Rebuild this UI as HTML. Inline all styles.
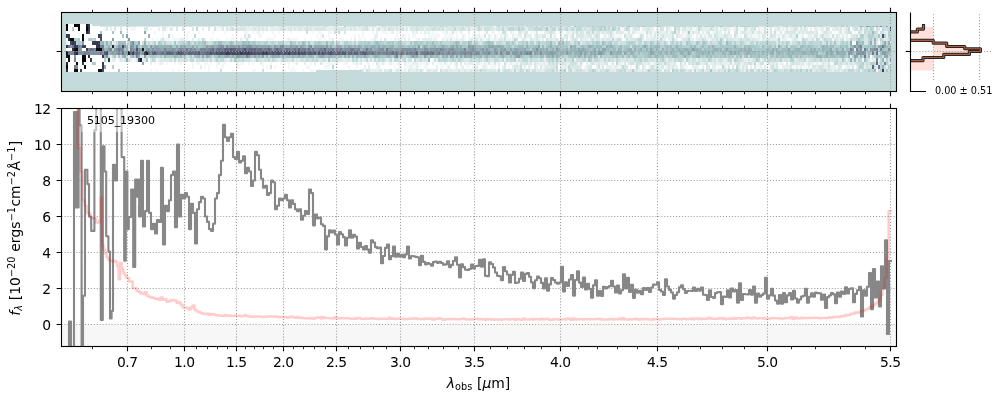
<!DOCTYPE html><html><head><meta charset="utf-8"><title>5105_19300</title><style>html,body{margin:0;padding:0;background:#fff;}svg{display:block;}</style></head><body><svg width="1000" height="400" viewBox="0 0 1000 400"><defs><clipPath id="c1"><rect x="61.5" y="12.5" width="835" height="79"/></clipPath><clipPath id="c2"><rect x="61.5" y="108.5" width="835" height="238"/></clipPath><clipPath id="c3"><rect x="910.5" y="12.5" width="82" height="79"/></clipPath></defs><rect width="1000" height="400" fill="#fff"/><rect x="61.5" y="12.5" width="835" height="79" fill="#c5dada"/><g clip-path="url(#c1)" shape-rendering="crispEdges"><path fill="#ffffff" d="M68 24h6v3.43h-6zM80 24h6v3.43h-6zM90 24h2v3.43h-2zM68 27.43h4v3.43h-4zM74 27.43h4v3.43h-4zM80 27.43h6v3.43h-6zM90 27.43h14v3.43h-14zM108 27.43h2v3.43h-2zM112 27.43h2v3.43h-2zM116 27.43h4v3.43h-4zM122 27.43h4v3.43h-4zM128 27.43h2v3.43h-2zM136 27.43h8v3.43h-8zM148 27.43h2v3.43h-2zM152 27.43h6v3.43h-6zM160 27.43h2v3.43h-2zM168 27.43h2v3.43h-2zM174 27.43h2v3.43h-2zM178 27.43h4v3.43h-4zM184 27.43h8v3.43h-8zM194 27.43h2v3.43h-2zM198 27.43h4v3.43h-4zM204 27.43h4v3.43h-4zM210 27.43h4v3.43h-4zM224 27.43h2v3.43h-2zM640 27.43h2v3.43h-2zM654 27.43h2v3.43h-2zM664 27.43h2v3.43h-2zM672 27.43h2v3.43h-2zM756 27.43h2v3.43h-2zM772 27.43h2v3.43h-2zM808 27.43h2v3.43h-2zM812 27.43h2v3.43h-2zM830 27.43h2v3.43h-2zM850 27.43h2v3.43h-2zM66 30.86h20v3.43h-20zM90 30.86h10v3.43h-10zM102 30.86h10v3.43h-10zM114 30.86h6v3.43h-6zM122 30.86h22v3.43h-22zM146 30.86h8v3.43h-8zM156 30.86h6v3.43h-6zM164 30.86h24v3.43h-24zM190 30.86h8v3.43h-8zM200 30.86h12v3.43h-12zM214 30.86h10v3.43h-10zM226 30.86h10v3.43h-10zM238 30.86h6v3.43h-6zM248 30.86h4v3.43h-4zM254 30.86h2v3.43h-2zM260 30.86h2v3.43h-2zM264 30.86h8v3.43h-8zM274 30.86h4v3.43h-4zM280 30.86h10v3.43h-10zM292 30.86h14v3.43h-14zM308 30.86h4v3.43h-4zM314 30.86h4v3.43h-4zM322 30.86h6v3.43h-6zM332 30.86h2v3.43h-2zM336 30.86h2v3.43h-2zM340 30.86h4v3.43h-4zM346 30.86h16v3.43h-16zM364 30.86h8v3.43h-8zM374 30.86h2v3.43h-2zM378 30.86h4v3.43h-4zM388 30.86h2v3.43h-2zM394 30.86h2v3.43h-2zM400 30.86h6v3.43h-6zM408 30.86h4v3.43h-4zM418 30.86h2v3.43h-2zM422 30.86h2v3.43h-2zM430 30.86h2v3.43h-2zM434 30.86h2v3.43h-2zM438 30.86h4v3.43h-4zM448 30.86h2v3.43h-2zM458 30.86h2v3.43h-2zM462 30.86h6v3.43h-6zM470 30.86h4v3.43h-4zM476 30.86h2v3.43h-2zM480 30.86h4v3.43h-4zM488 30.86h4v3.43h-4zM494 30.86h4v3.43h-4zM500 30.86h2v3.43h-2zM508 30.86h2v3.43h-2zM516 30.86h2v3.43h-2zM528 30.86h2v3.43h-2zM538 30.86h2v3.43h-2zM542 30.86h2v3.43h-2zM556 30.86h2v3.43h-2zM564 30.86h2v3.43h-2zM680 30.86h2v3.43h-2zM700 30.86h2v3.43h-2zM710 30.86h2v3.43h-2zM722 30.86h2v3.43h-2zM730 30.86h4v3.43h-4zM738 30.86h2v3.43h-2zM782 30.86h2v3.43h-2zM818 30.86h2v3.43h-2zM832 30.86h2v3.43h-2zM836 30.86h2v3.43h-2zM852 30.86h2v3.43h-2zM856 30.86h2v3.43h-2zM70 34.29h12v3.43h-12zM84 34.29h14v3.43h-14zM102 34.29h20v3.43h-20zM124 34.29h2v3.43h-2zM128 34.29h20v3.43h-20zM150 34.29h12v3.43h-12zM164 34.29h4v3.43h-4zM170 34.29h2v3.43h-2zM174 34.29h12v3.43h-12zM188 34.29h6v3.43h-6zM196 34.29h36v3.43h-36zM234 34.29h10v3.43h-10zM252 34.29h6v3.43h-6zM262 34.29h12v3.43h-12zM276 34.29h40v3.43h-40zM318 34.29h2v3.43h-2zM324 34.29h4v3.43h-4zM330 34.29h24v3.43h-24zM356 34.29h2v3.43h-2zM360 34.29h2v3.43h-2zM364 34.29h10v3.43h-10zM378 34.29h18v3.43h-18zM398 34.29h4v3.43h-4zM406 34.29h2v3.43h-2zM410 34.29h2v3.43h-2zM416 34.29h8v3.43h-8zM426 34.29h2v3.43h-2zM440 34.29h4v3.43h-4zM454 34.29h2v3.43h-2zM458 34.29h4v3.43h-4zM466 34.29h2v3.43h-2zM470 34.29h2v3.43h-2zM486 34.29h2v3.43h-2zM492 34.29h2v3.43h-2zM498 34.29h2v3.43h-2zM508 34.29h4v3.43h-4zM522 34.29h2v3.43h-2zM532 34.29h2v3.43h-2zM556 34.29h4v3.43h-4zM574 34.29h2v3.43h-2zM600 34.29h2v3.43h-2zM622 34.29h2v3.43h-2zM634 34.29h4v3.43h-4zM644 34.29h2v3.43h-2zM674 34.29h2v3.43h-2zM694 34.29h2v3.43h-2zM732 34.29h2v3.43h-2zM742 34.29h2v3.43h-2zM766 34.29h2v3.43h-2zM804 34.29h2v3.43h-2zM848 34.29h2v3.43h-2zM66 37.71h2v3.43h-2zM80 37.71h2v3.43h-2zM84 37.71h4v3.43h-4zM96 37.71h4v3.43h-4zM102 37.71h10v3.43h-10zM114 37.71h14v3.43h-14zM130 37.71h14v3.43h-14zM146 37.71h6v3.43h-6zM154 37.71h2v3.43h-2zM158 37.71h2v3.43h-2zM170 37.71h2v3.43h-2zM188 37.71h4v3.43h-4zM194 37.71h2v3.43h-2zM206 37.71h4v3.43h-4zM214 37.71h2v3.43h-2zM220 37.71h6v3.43h-6zM228 37.71h2v3.43h-2zM238 37.71h2v3.43h-2zM244 37.71h2v3.43h-2zM250 37.71h4v3.43h-4zM256 37.71h10v3.43h-10zM274 37.71h8v3.43h-8zM284 37.71h2v3.43h-2zM298 37.71h6v3.43h-6zM306 37.71h4v3.43h-4zM312 37.71h6v3.43h-6zM322 37.71h2v3.43h-2zM326 37.71h2v3.43h-2zM334 37.71h4v3.43h-4zM344 37.71h2v3.43h-2zM348 37.71h2v3.43h-2zM352 37.71h2v3.43h-2zM356 37.71h2v3.43h-2zM362 37.71h2v3.43h-2zM366 37.71h4v3.43h-4zM378 37.71h2v3.43h-2zM382 37.71h2v3.43h-2zM388 37.71h2v3.43h-2zM392 37.71h2v3.43h-2zM406 37.71h2v3.43h-2zM410 37.71h6v3.43h-6zM420 37.71h2v3.43h-2zM438 37.71h4v3.43h-4zM466 37.71h2v3.43h-2zM518 37.71h2v3.43h-2zM544 37.71h2v3.43h-2zM568 37.71h2v3.43h-2zM578 37.71h2v3.43h-2zM622 37.71h2v3.43h-2zM666 37.71h2v3.43h-2zM678 37.71h2v3.43h-2zM788 37.71h2v3.43h-2zM68 41.14h2v3.43h-2zM84 41.14h8v3.43h-8zM852 41.14h4v3.43h-4zM878 41.14h2v3.43h-2zM890 41.14h1v3.43h-1zM86 44.57h10v3.43h-10zM66 48h6v3.43h-6zM82 48h4v3.43h-4zM70 54.86h4v3.43h-4zM76 54.86h6v3.43h-6zM86 54.86h2v3.43h-2zM90 54.86h12v3.43h-12zM870 54.86h2v3.43h-2zM66 58.29h2v3.43h-2zM70 58.29h4v3.43h-4zM76 58.29h6v3.43h-6zM86 58.29h4v3.43h-4zM92 58.29h12v3.43h-12zM116 58.29h2v3.43h-2zM132 58.29h2v3.43h-2zM148 58.29h2v3.43h-2zM430 58.29h2v3.43h-2zM68 61.71h8v3.43h-8zM78 61.71h4v3.43h-4zM84 61.71h8v3.43h-8zM96 61.71h6v3.43h-6zM104 61.71h38v3.43h-38zM144 61.71h6v3.43h-6zM152 61.71h2v3.43h-2zM156 61.71h2v3.43h-2zM164 61.71h2v3.43h-2zM168 61.71h6v3.43h-6zM176 61.71h2v3.43h-2zM182 61.71h2v3.43h-2zM186 61.71h6v3.43h-6zM194 61.71h2v3.43h-2zM200 61.71h4v3.43h-4zM208 61.71h2v3.43h-2zM212 61.71h4v3.43h-4zM220 61.71h2v3.43h-2zM226 61.71h10v3.43h-10zM244 61.71h4v3.43h-4zM250 61.71h2v3.43h-2zM254 61.71h6v3.43h-6zM264 61.71h6v3.43h-6zM272 61.71h8v3.43h-8zM282 61.71h2v3.43h-2zM286 61.71h2v3.43h-2zM290 61.71h4v3.43h-4zM298 61.71h6v3.43h-6zM306 61.71h4v3.43h-4zM312 61.71h2v3.43h-2zM316 61.71h4v3.43h-4zM324 61.71h2v3.43h-2zM338 61.71h6v3.43h-6zM348 61.71h4v3.43h-4zM362 61.71h4v3.43h-4zM370 61.71h2v3.43h-2zM374 61.71h2v3.43h-2zM386 61.71h2v3.43h-2zM394 61.71h2v3.43h-2zM402 61.71h2v3.43h-2zM430 61.71h2v3.43h-2zM434 61.71h4v3.43h-4zM448 61.71h2v3.43h-2zM452 61.71h2v3.43h-2zM458 61.71h2v3.43h-2zM462 61.71h2v3.43h-2zM502 61.71h2v3.43h-2zM584 61.71h2v3.43h-2zM608 61.71h2v3.43h-2zM614 61.71h2v3.43h-2zM676 61.71h4v3.43h-4zM686 61.71h2v3.43h-2zM764 61.71h2v3.43h-2zM784 61.71h2v3.43h-2zM68 65.14h6v3.43h-6zM78 65.14h6v3.43h-6zM86 65.14h16v3.43h-16zM106 65.14h6v3.43h-6zM114 65.14h78v3.43h-78zM194 65.14h6v3.43h-6zM202 65.14h2v3.43h-2zM206 65.14h2v3.43h-2zM210 65.14h6v3.43h-6zM218 65.14h2v3.43h-2zM224 65.14h12v3.43h-12zM240 65.14h22v3.43h-22zM264 65.14h2v3.43h-2zM268 65.14h2v3.43h-2zM272 65.14h2v3.43h-2zM276 65.14h12v3.43h-12zM290 65.14h2v3.43h-2zM294 65.14h12v3.43h-12zM310 65.14h14v3.43h-14zM330 65.14h2v3.43h-2zM334 65.14h14v3.43h-14zM350 65.14h6v3.43h-6zM358 65.14h6v3.43h-6zM366 65.14h2v3.43h-2zM370 65.14h6v3.43h-6zM380 65.14h14v3.43h-14zM396 65.14h2v3.43h-2zM402 65.14h2v3.43h-2zM420 65.14h4v3.43h-4zM428 65.14h8v3.43h-8zM438 65.14h2v3.43h-2zM444 65.14h2v3.43h-2zM450 65.14h4v3.43h-4zM458 65.14h2v3.43h-2zM464 65.14h2v3.43h-2zM470 65.14h2v3.43h-2zM478 65.14h4v3.43h-4zM488 65.14h2v3.43h-2zM496 65.14h2v3.43h-2zM500 65.14h2v3.43h-2zM506 65.14h2v3.43h-2zM510 65.14h2v3.43h-2zM526 65.14h2v3.43h-2zM532 65.14h2v3.43h-2zM538 65.14h2v3.43h-2zM558 65.14h2v3.43h-2zM582 65.14h2v3.43h-2zM592 65.14h4v3.43h-4zM604 65.14h2v3.43h-2zM628 65.14h2v3.43h-2zM632 65.14h2v3.43h-2zM640 65.14h2v3.43h-2zM646 65.14h2v3.43h-2zM678 65.14h2v3.43h-2zM688 65.14h4v3.43h-4zM700 65.14h2v3.43h-2zM704 65.14h2v3.43h-2zM710 65.14h2v3.43h-2zM730 65.14h2v3.43h-2zM734 65.14h2v3.43h-2zM748 65.14h2v3.43h-2zM752 65.14h2v3.43h-2zM762 65.14h2v3.43h-2zM766 65.14h4v3.43h-4zM780 65.14h2v3.43h-2zM842 65.14h2v3.43h-2zM854 65.14h2v3.43h-2zM68 68.57h6v3.43h-6zM78 68.57h2v3.43h-2zM82 68.57h16v3.43h-16zM104 68.57h14v3.43h-14zM120 68.57h30v3.43h-30zM152 68.57h4v3.43h-4zM158 68.57h14v3.43h-14zM174 68.57h4v3.43h-4zM180 68.57h6v3.43h-6zM188 68.57h20v3.43h-20zM210 68.57h10v3.43h-10zM222 68.57h10v3.43h-10zM234 68.57h18v3.43h-18zM256 68.57h6v3.43h-6zM264 68.57h18v3.43h-18zM286 68.57h4v3.43h-4zM296 68.57h6v3.43h-6zM304 68.57h6v3.43h-6zM314 68.57h2v3.43h-2zM424 68.57h2v3.43h-2zM438 68.57h2v3.43h-2zM92 26.3h8v1.13h-8zM170 26.3h2v1.13h-2zM316 68.57h2v1.13h-2zM320 68.57h10v1.13h-10zM334 68.57h16v1.13h-16zM352 68.57h2v1.13h-2zM356 68.57h2v1.13h-2z"/><path fill="#f3f7f7" d="M104 27.43h2v3.43h-2zM130 27.43h6v3.43h-6zM150 27.43h2v3.43h-2zM166 27.43h2v3.43h-2zM172 27.43h2v3.43h-2zM216 27.43h6v3.43h-6zM268 27.43h2v3.43h-2zM370 27.43h2v3.43h-2zM374 27.43h2v3.43h-2zM408 27.43h2v3.43h-2zM620 27.43h4v3.43h-4zM630 27.43h2v3.43h-2zM658 27.43h2v3.43h-2zM670 27.43h2v3.43h-2zM680 27.43h2v3.43h-2zM692 27.43h4v3.43h-4zM718 27.43h2v3.43h-2zM730 27.43h4v3.43h-4zM738 27.43h6v3.43h-6zM748 27.43h2v3.43h-2zM760 27.43h4v3.43h-4zM766 27.43h4v3.43h-4zM780 27.43h2v3.43h-2zM784 27.43h2v3.43h-2zM788 27.43h2v3.43h-2zM798 27.43h2v3.43h-2zM818 27.43h2v3.43h-2zM824 27.43h2v3.43h-2zM842 27.43h2v3.43h-2zM874 27.43h2v3.43h-2zM880 27.43h2v3.43h-2zM154 30.86h2v3.43h-2zM162 30.86h2v3.43h-2zM188 30.86h2v3.43h-2zM198 30.86h2v3.43h-2zM212 30.86h2v3.43h-2zM224 30.86h2v3.43h-2zM236 30.86h2v3.43h-2zM244 30.86h4v3.43h-4zM252 30.86h2v3.43h-2zM256 30.86h2v3.43h-2zM262 30.86h2v3.43h-2zM272 30.86h2v3.43h-2zM278 30.86h2v3.43h-2zM290 30.86h2v3.43h-2zM312 30.86h2v3.43h-2zM318 30.86h4v3.43h-4zM328 30.86h4v3.43h-4zM362 30.86h2v3.43h-2zM372 30.86h2v3.43h-2zM382 30.86h6v3.43h-6zM390 30.86h2v3.43h-2zM396 30.86h4v3.43h-4zM406 30.86h2v3.43h-2zM414 30.86h2v3.43h-2zM420 30.86h2v3.43h-2zM426 30.86h2v3.43h-2zM432 30.86h2v3.43h-2zM436 30.86h2v3.43h-2zM442 30.86h4v3.43h-4zM450 30.86h2v3.43h-2zM454 30.86h4v3.43h-4zM474 30.86h2v3.43h-2zM478 30.86h2v3.43h-2zM484 30.86h2v3.43h-2zM498 30.86h2v3.43h-2zM506 30.86h2v3.43h-2zM512 30.86h4v3.43h-4zM522 30.86h2v3.43h-2zM530 30.86h6v3.43h-6zM540 30.86h2v3.43h-2zM558 30.86h2v3.43h-2zM562 30.86h2v3.43h-2zM570 30.86h2v3.43h-2zM584 30.86h2v3.43h-2zM614 30.86h2v3.43h-2zM624 30.86h4v3.43h-4zM630 30.86h2v3.43h-2zM636 30.86h10v3.43h-10zM652 30.86h2v3.43h-2zM668 30.86h2v3.43h-2zM684 30.86h2v3.43h-2zM690 30.86h2v3.43h-2zM704 30.86h2v3.43h-2zM712 30.86h2v3.43h-2zM726 30.86h2v3.43h-2zM754 30.86h2v3.43h-2zM762 30.86h2v3.43h-2zM768 30.86h2v3.43h-2zM772 30.86h2v3.43h-2zM776 30.86h4v3.43h-4zM796 30.86h2v3.43h-2zM820 30.86h2v3.43h-2zM834 30.86h2v3.43h-2zM842 30.86h2v3.43h-2zM854 30.86h2v3.43h-2zM862 30.86h2v3.43h-2zM878 30.86h2v3.43h-2zM162 34.29h2v3.43h-2zM172 34.29h2v3.43h-2zM186 34.29h2v3.43h-2zM232 34.29h2v3.43h-2zM246 34.29h2v3.43h-2zM250 34.29h2v3.43h-2zM258 34.29h4v3.43h-4zM274 34.29h2v3.43h-2zM316 34.29h2v3.43h-2zM320 34.29h2v3.43h-2zM328 34.29h2v3.43h-2zM354 34.29h2v3.43h-2zM358 34.29h2v3.43h-2zM362 34.29h2v3.43h-2zM396 34.29h2v3.43h-2zM404 34.29h2v3.43h-2zM408 34.29h2v3.43h-2zM412 34.29h4v3.43h-4zM424 34.29h2v3.43h-2zM428 34.29h12v3.43h-12zM444 34.29h10v3.43h-10zM456 34.29h2v3.43h-2zM464 34.29h2v3.43h-2zM468 34.29h2v3.43h-2zM472 34.29h2v3.43h-2zM476 34.29h2v3.43h-2zM480 34.29h4v3.43h-4zM490 34.29h2v3.43h-2zM496 34.29h2v3.43h-2zM502 34.29h2v3.43h-2zM514 34.29h4v3.43h-4zM546 34.29h4v3.43h-4zM552 34.29h2v3.43h-2zM562 34.29h2v3.43h-2zM568 34.29h2v3.43h-2zM592 34.29h2v3.43h-2zM602 34.29h2v3.43h-2zM606 34.29h2v3.43h-2zM614 34.29h8v3.43h-8zM632 34.29h2v3.43h-2zM638 34.29h2v3.43h-2zM648 34.29h2v3.43h-2zM652 34.29h2v3.43h-2zM656 34.29h2v3.43h-2zM682 34.29h4v3.43h-4zM692 34.29h2v3.43h-2zM698 34.29h2v3.43h-2zM702 34.29h2v3.43h-2zM706 34.29h2v3.43h-2zM712 34.29h2v3.43h-2zM738 34.29h4v3.43h-4zM748 34.29h2v3.43h-2zM752 34.29h6v3.43h-6zM760 34.29h2v3.43h-2zM768 34.29h2v3.43h-2zM776 34.29h2v3.43h-2zM780 34.29h2v3.43h-2zM786 34.29h2v3.43h-2zM798 34.29h4v3.43h-4zM806 34.29h2v3.43h-2zM812 34.29h2v3.43h-2zM818 34.29h2v3.43h-2zM830 34.29h2v3.43h-2zM834 34.29h2v3.43h-2zM840 34.29h2v3.43h-2zM844 34.29h2v3.43h-2zM152 37.71h2v3.43h-2zM156 37.71h2v3.43h-2zM164 37.71h6v3.43h-6zM172 37.71h8v3.43h-8zM184 37.71h4v3.43h-4zM196 37.71h2v3.43h-2zM200 37.71h2v3.43h-2zM210 37.71h4v3.43h-4zM216 37.71h4v3.43h-4zM226 37.71h2v3.43h-2zM230 37.71h8v3.43h-8zM242 37.71h2v3.43h-2zM248 37.71h2v3.43h-2zM254 37.71h2v3.43h-2zM266 37.71h8v3.43h-8zM282 37.71h2v3.43h-2zM286 37.71h2v3.43h-2zM290 37.71h8v3.43h-8zM304 37.71h2v3.43h-2zM310 37.71h2v3.43h-2zM318 37.71h4v3.43h-4zM324 37.71h2v3.43h-2zM328 37.71h4v3.43h-4zM338 37.71h6v3.43h-6zM346 37.71h2v3.43h-2zM350 37.71h2v3.43h-2zM358 37.71h4v3.43h-4zM364 37.71h2v3.43h-2zM370 37.71h4v3.43h-4zM376 37.71h2v3.43h-2zM386 37.71h2v3.43h-2zM390 37.71h2v3.43h-2zM396 37.71h2v3.43h-2zM402 37.71h2v3.43h-2zM416 37.71h2v3.43h-2zM432 37.71h2v3.43h-2zM436 37.71h2v3.43h-2zM444 37.71h2v3.43h-2zM448 37.71h2v3.43h-2zM452 37.71h4v3.43h-4zM458 37.71h2v3.43h-2zM464 37.71h2v3.43h-2zM468 37.71h2v3.43h-2zM478 37.71h2v3.43h-2zM482 37.71h4v3.43h-4zM490 37.71h4v3.43h-4zM496 37.71h2v3.43h-2zM506 37.71h2v3.43h-2zM510 37.71h2v3.43h-2zM520 37.71h2v3.43h-2zM526 37.71h4v3.43h-4zM540 37.71h2v3.43h-2zM558 37.71h2v3.43h-2zM564 37.71h2v3.43h-2zM588 37.71h2v3.43h-2zM624 37.71h2v3.43h-2zM644 37.71h2v3.43h-2zM676 37.71h2v3.43h-2zM680 37.71h2v3.43h-2zM694 37.71h2v3.43h-2zM708 37.71h2v3.43h-2zM724 37.71h2v3.43h-2zM760 37.71h2v3.43h-2zM780 37.71h2v3.43h-2zM786 37.71h2v3.43h-2zM790 37.71h2v3.43h-2zM798 37.71h4v3.43h-4zM814 37.71h2v3.43h-2zM820 37.71h2v3.43h-2zM832 37.71h2v3.43h-2zM844 37.71h2v3.43h-2zM140 41.14h2v3.43h-2zM110 58.29h2v3.43h-2zM118 58.29h2v3.43h-2zM134 58.29h2v3.43h-2zM156 58.29h2v3.43h-2zM412 58.29h2v3.43h-2zM432 58.29h2v3.43h-2zM862 58.29h2v3.43h-2zM870 58.29h2v3.43h-2zM154 61.71h2v3.43h-2zM158 61.71h2v3.43h-2zM162 61.71h2v3.43h-2zM166 61.71h2v3.43h-2zM174 61.71h2v3.43h-2zM178 61.71h4v3.43h-4zM184 61.71h2v3.43h-2zM192 61.71h2v3.43h-2zM196 61.71h4v3.43h-4zM204 61.71h4v3.43h-4zM210 61.71h2v3.43h-2zM216 61.71h2v3.43h-2zM222 61.71h4v3.43h-4zM238 61.71h6v3.43h-6zM248 61.71h2v3.43h-2zM252 61.71h2v3.43h-2zM262 61.71h2v3.43h-2zM270 61.71h2v3.43h-2zM280 61.71h2v3.43h-2zM284 61.71h2v3.43h-2zM288 61.71h2v3.43h-2zM294 61.71h2v3.43h-2zM310 61.71h2v3.43h-2zM322 61.71h2v3.43h-2zM326 61.71h10v3.43h-10zM344 61.71h4v3.43h-4zM352 61.71h4v3.43h-4zM358 61.71h2v3.43h-2zM366 61.71h4v3.43h-4zM372 61.71h2v3.43h-2zM378 61.71h4v3.43h-4zM384 61.71h2v3.43h-2zM388 61.71h2v3.43h-2zM392 61.71h2v3.43h-2zM396 61.71h2v3.43h-2zM400 61.71h2v3.43h-2zM406 61.71h6v3.43h-6zM418 61.71h8v3.43h-8zM428 61.71h2v3.43h-2zM438 61.71h6v3.43h-6zM446 61.71h2v3.43h-2zM466 61.71h2v3.43h-2zM474 61.71h2v3.43h-2zM480 61.71h4v3.43h-4zM486 61.71h2v3.43h-2zM490 61.71h4v3.43h-4zM496 61.71h2v3.43h-2zM500 61.71h2v3.43h-2zM506 61.71h4v3.43h-4zM512 61.71h4v3.43h-4zM518 61.71h2v3.43h-2zM532 61.71h2v3.43h-2zM540 61.71h2v3.43h-2zM546 61.71h2v3.43h-2zM578 61.71h2v3.43h-2zM582 61.71h2v3.43h-2zM588 61.71h2v3.43h-2zM610 61.71h2v3.43h-2zM622 61.71h2v3.43h-2zM626 61.71h2v3.43h-2zM650 61.71h4v3.43h-4zM682 61.71h2v3.43h-2zM708 61.71h2v3.43h-2zM732 61.71h2v3.43h-2zM756 61.71h2v3.43h-2zM778 61.71h2v3.43h-2zM782 61.71h2v3.43h-2zM788 61.71h2v3.43h-2zM804 61.71h2v3.43h-2zM814 61.71h2v3.43h-2zM818 61.71h4v3.43h-4zM830 61.71h4v3.43h-4zM192 65.14h2v3.43h-2zM204 65.14h2v3.43h-2zM208 65.14h2v3.43h-2zM216 65.14h2v3.43h-2zM220 65.14h4v3.43h-4zM238 65.14h2v3.43h-2zM262 65.14h2v3.43h-2zM266 65.14h2v3.43h-2zM274 65.14h2v3.43h-2zM288 65.14h2v3.43h-2zM292 65.14h2v3.43h-2zM306 65.14h4v3.43h-4zM324 65.14h6v3.43h-6zM348 65.14h2v3.43h-2zM356 65.14h2v3.43h-2zM376 65.14h2v3.43h-2zM394 65.14h2v3.43h-2zM398 65.14h4v3.43h-4zM404 65.14h6v3.43h-6zM412 65.14h4v3.43h-4zM418 65.14h2v3.43h-2zM424 65.14h4v3.43h-4zM440 65.14h4v3.43h-4zM446 65.14h2v3.43h-2zM454 65.14h2v3.43h-2zM460 65.14h2v3.43h-2zM466 65.14h4v3.43h-4zM472 65.14h2v3.43h-2zM486 65.14h2v3.43h-2zM490 65.14h6v3.43h-6zM508 65.14h2v3.43h-2zM522 65.14h2v3.43h-2zM530 65.14h2v3.43h-2zM542 65.14h2v3.43h-2zM584 65.14h2v3.43h-2zM600 65.14h2v3.43h-2zM612 65.14h2v3.43h-2zM618 65.14h2v3.43h-2zM630 65.14h2v3.43h-2zM634 65.14h2v3.43h-2zM648 65.14h2v3.43h-2zM664 65.14h2v3.43h-2zM684 65.14h4v3.43h-4zM698 65.14h2v3.43h-2zM716 65.14h6v3.43h-6zM726 65.14h2v3.43h-2zM740 65.14h2v3.43h-2zM756 65.14h4v3.43h-4zM778 65.14h2v3.43h-2zM792 65.14h4v3.43h-4zM798 65.14h2v3.43h-2zM802 65.14h6v3.43h-6zM810 65.14h2v3.43h-2zM836 65.14h2v3.43h-2zM844 65.14h2v3.43h-2zM850 65.14h2v3.43h-2zM150 68.57h2v3.43h-2zM156 68.57h2v3.43h-2zM172 68.57h2v3.43h-2zM178 68.57h2v3.43h-2zM186 68.57h2v3.43h-2zM208 68.57h2v3.43h-2zM232 68.57h2v3.43h-2zM252 68.57h4v3.43h-4zM284 68.57h2v3.43h-2zM290 68.57h6v3.43h-6zM302 68.57h2v3.43h-2zM310 68.57h4v3.43h-4zM364 68.57h2v3.43h-2zM382 68.57h2v3.43h-2zM392 68.57h4v3.43h-4zM402 68.57h2v3.43h-2zM406 68.57h2v3.43h-2zM500 68.57h2v3.43h-2zM566 68.57h2v3.43h-2zM662 68.57h2v3.43h-2zM670 68.57h2v3.43h-2zM692 68.57h2v3.43h-2zM876 68.57h2v3.43h-2zM216 26.3h2v1.13h-2zM228 26.3h2v1.13h-2zM232 26.3h2v1.13h-2zM238 26.3h2v1.13h-2zM250 26.3h2v1.13h-2zM336 26.3h2v1.13h-2zM340 26.3h4v1.13h-4zM376 26.3h4v1.13h-4zM494 26.3h2v1.13h-2zM572 26.3h2v1.13h-2zM318 68.57h2v1.13h-2zM330 68.57h4v1.13h-4zM350 68.57h2v1.13h-2zM358 68.57h2v1.13h-2z"/><path fill="#e6efef" d="M110 27.43h2v3.43h-2zM126 27.43h2v3.43h-2zM158 27.43h2v3.43h-2zM202 27.43h2v3.43h-2zM228 27.43h2v3.43h-2zM234 27.43h2v3.43h-2zM246 27.43h8v3.43h-8zM256 27.43h2v3.43h-2zM260 27.43h2v3.43h-2zM264 27.43h2v3.43h-2zM270 27.43h10v3.43h-10zM286 27.43h2v3.43h-2zM292 27.43h2v3.43h-2zM296 27.43h2v3.43h-2zM302 27.43h2v3.43h-2zM312 27.43h2v3.43h-2zM326 27.43h8v3.43h-8zM346 27.43h4v3.43h-4zM352 27.43h2v3.43h-2zM356 27.43h6v3.43h-6zM368 27.43h2v3.43h-2zM376 27.43h2v3.43h-2zM380 27.43h4v3.43h-4zM386 27.43h2v3.43h-2zM394 27.43h2v3.43h-2zM398 27.43h2v3.43h-2zM404 27.43h2v3.43h-2zM424 27.43h2v3.43h-2zM444 27.43h2v3.43h-2zM466 27.43h2v3.43h-2zM470 27.43h6v3.43h-6zM482 27.43h2v3.43h-2zM494 27.43h2v3.43h-2zM526 27.43h2v3.43h-2zM556 27.43h2v3.43h-2zM632 27.43h2v3.43h-2zM642 27.43h4v3.43h-4zM650 27.43h4v3.43h-4zM656 27.43h2v3.43h-2zM668 27.43h2v3.43h-2zM686 27.43h4v3.43h-4zM696 27.43h2v3.43h-2zM702 27.43h8v3.43h-8zM714 27.43h2v3.43h-2zM720 27.43h4v3.43h-4zM726 27.43h4v3.43h-4zM734 27.43h2v3.43h-2zM758 27.43h2v3.43h-2zM774 27.43h4v3.43h-4zM782 27.43h2v3.43h-2zM790 27.43h4v3.43h-4zM802 27.43h2v3.43h-2zM806 27.43h2v3.43h-2zM810 27.43h2v3.43h-2zM814 27.43h4v3.43h-4zM820 27.43h4v3.43h-4zM832 27.43h4v3.43h-4zM838 27.43h2v3.43h-2zM844 27.43h2v3.43h-2zM852 27.43h2v3.43h-2zM858 27.43h2v3.43h-2zM862 27.43h2v3.43h-2zM258 30.86h2v3.43h-2zM376 30.86h2v3.43h-2zM392 30.86h2v3.43h-2zM412 30.86h2v3.43h-2zM416 30.86h2v3.43h-2zM424 30.86h2v3.43h-2zM428 30.86h2v3.43h-2zM446 30.86h2v3.43h-2zM460 30.86h2v3.43h-2zM468 30.86h2v3.43h-2zM492 30.86h2v3.43h-2zM510 30.86h2v3.43h-2zM544 30.86h4v3.43h-4zM554 30.86h2v3.43h-2zM566 30.86h4v3.43h-4zM574 30.86h2v3.43h-2zM578 30.86h2v3.43h-2zM590 30.86h2v3.43h-2zM594 30.86h2v3.43h-2zM600 30.86h2v3.43h-2zM604 30.86h2v3.43h-2zM612 30.86h2v3.43h-2zM618 30.86h2v3.43h-2zM622 30.86h2v3.43h-2zM634 30.86h2v3.43h-2zM648 30.86h2v3.43h-2zM654 30.86h4v3.43h-4zM660 30.86h6v3.43h-6zM676 30.86h2v3.43h-2zM682 30.86h2v3.43h-2zM686 30.86h2v3.43h-2zM694 30.86h4v3.43h-4zM702 30.86h2v3.43h-2zM714 30.86h2v3.43h-2zM718 30.86h4v3.43h-4zM724 30.86h2v3.43h-2zM740 30.86h2v3.43h-2zM746 30.86h6v3.43h-6zM756 30.86h2v3.43h-2zM760 30.86h2v3.43h-2zM784 30.86h2v3.43h-2zM800 30.86h2v3.43h-2zM804 30.86h2v3.43h-2zM814 30.86h2v3.43h-2zM822 30.86h2v3.43h-2zM828 30.86h4v3.43h-4zM838 30.86h2v3.43h-2zM844 30.86h2v3.43h-2zM884 30.86h4v3.43h-4zM890 30.86h1v3.43h-1zM374 34.29h4v3.43h-4zM402 34.29h2v3.43h-2zM462 34.29h2v3.43h-2zM474 34.29h2v3.43h-2zM478 34.29h2v3.43h-2zM488 34.29h2v3.43h-2zM494 34.29h2v3.43h-2zM500 34.29h2v3.43h-2zM506 34.29h2v3.43h-2zM512 34.29h2v3.43h-2zM518 34.29h4v3.43h-4zM526 34.29h6v3.43h-6zM534 34.29h2v3.43h-2zM538 34.29h4v3.43h-4zM554 34.29h2v3.43h-2zM570 34.29h2v3.43h-2zM584 34.29h4v3.43h-4zM604 34.29h2v3.43h-2zM608 34.29h2v3.43h-2zM612 34.29h2v3.43h-2zM626 34.29h4v3.43h-4zM646 34.29h2v3.43h-2zM650 34.29h2v3.43h-2zM658 34.29h4v3.43h-4zM664 34.29h8v3.43h-8zM678 34.29h4v3.43h-4zM686 34.29h2v3.43h-2zM690 34.29h2v3.43h-2zM696 34.29h2v3.43h-2zM704 34.29h2v3.43h-2zM718 34.29h6v3.43h-6zM728 34.29h4v3.43h-4zM736 34.29h2v3.43h-2zM750 34.29h2v3.43h-2zM758 34.29h2v3.43h-2zM778 34.29h2v3.43h-2zM784 34.29h2v3.43h-2zM788 34.29h2v3.43h-2zM792 34.29h4v3.43h-4zM802 34.29h2v3.43h-2zM808 34.29h4v3.43h-4zM824 34.29h6v3.43h-6zM838 34.29h2v3.43h-2zM842 34.29h2v3.43h-2zM846 34.29h2v3.43h-2zM850 34.29h2v3.43h-2zM858 34.29h2v3.43h-2zM886 34.29h2v3.43h-2zM160 37.71h2v3.43h-2zM180 37.71h4v3.43h-4zM192 37.71h2v3.43h-2zM198 37.71h2v3.43h-2zM204 37.71h2v3.43h-2zM240 37.71h2v3.43h-2zM288 37.71h2v3.43h-2zM332 37.71h2v3.43h-2zM354 37.71h2v3.43h-2zM374 37.71h2v3.43h-2zM380 37.71h2v3.43h-2zM394 37.71h2v3.43h-2zM398 37.71h4v3.43h-4zM404 37.71h2v3.43h-2zM408 37.71h2v3.43h-2zM418 37.71h2v3.43h-2zM422 37.71h10v3.43h-10zM434 37.71h2v3.43h-2zM442 37.71h2v3.43h-2zM446 37.71h2v3.43h-2zM456 37.71h2v3.43h-2zM460 37.71h4v3.43h-4zM472 37.71h4v3.43h-4zM486 37.71h2v3.43h-2zM494 37.71h2v3.43h-2zM498 37.71h2v3.43h-2zM502 37.71h2v3.43h-2zM508 37.71h2v3.43h-2zM512 37.71h2v3.43h-2zM524 37.71h2v3.43h-2zM532 37.71h4v3.43h-4zM538 37.71h2v3.43h-2zM542 37.71h2v3.43h-2zM548 37.71h2v3.43h-2zM552 37.71h4v3.43h-4zM570 37.71h2v3.43h-2zM582 37.71h6v3.43h-6zM594 37.71h2v3.43h-2zM600 37.71h2v3.43h-2zM604 37.71h2v3.43h-2zM610 37.71h2v3.43h-2zM614 37.71h2v3.43h-2zM628 37.71h2v3.43h-2zM642 37.71h2v3.43h-2zM646 37.71h6v3.43h-6zM654 37.71h6v3.43h-6zM662 37.71h4v3.43h-4zM668 37.71h4v3.43h-4zM690 37.71h4v3.43h-4zM696 37.71h4v3.43h-4zM706 37.71h2v3.43h-2zM710 37.71h2v3.43h-2zM714 37.71h2v3.43h-2zM718 37.71h2v3.43h-2zM734 37.71h4v3.43h-4zM750 37.71h2v3.43h-2zM756 37.71h4v3.43h-4zM764 37.71h2v3.43h-2zM770 37.71h8v3.43h-8zM782 37.71h4v3.43h-4zM792 37.71h2v3.43h-2zM796 37.71h2v3.43h-2zM808 37.71h4v3.43h-4zM838 37.71h2v3.43h-2zM846 37.71h4v3.43h-4zM878 37.71h2v3.43h-2zM884 37.71h2v3.43h-2zM66 41.14h2v3.43h-2zM112 41.14h2v3.43h-2zM126 41.14h2v3.43h-2zM156 41.14h2v3.43h-2zM668 41.14h2v3.43h-2zM790 41.14h2v3.43h-2zM854 48h2v3.43h-2zM110 54.86h2v3.43h-2zM116 54.86h2v3.43h-2zM128 54.86h2v3.43h-2zM850 54.86h2v3.43h-2zM106 58.29h2v3.43h-2zM112 58.29h4v3.43h-4zM122 58.29h2v3.43h-2zM130 58.29h2v3.43h-2zM142 58.29h2v3.43h-2zM158 58.29h2v3.43h-2zM172 58.29h2v3.43h-2zM176 58.29h2v3.43h-2zM188 58.29h2v3.43h-2zM194 58.29h2v3.43h-2zM212 58.29h2v3.43h-2zM226 58.29h4v3.43h-4zM252 58.29h2v3.43h-2zM278 58.29h2v3.43h-2zM294 58.29h2v3.43h-2zM298 58.29h2v3.43h-2zM326 58.29h2v3.43h-2zM342 58.29h4v3.43h-4zM350 58.29h2v3.43h-2zM358 58.29h2v3.43h-2zM362 58.29h2v3.43h-2zM368 58.29h2v3.43h-2zM372 58.29h2v3.43h-2zM386 58.29h2v3.43h-2zM392 58.29h2v3.43h-2zM400 58.29h2v3.43h-2zM406 58.29h2v3.43h-2zM436 58.29h2v3.43h-2zM504 58.29h2v3.43h-2zM516 58.29h2v3.43h-2zM544 58.29h2v3.43h-2zM574 58.29h2v3.43h-2zM666 58.29h2v3.43h-2zM684 58.29h2v3.43h-2zM696 58.29h2v3.43h-2zM716 58.29h2v3.43h-2zM724 58.29h2v3.43h-2zM732 58.29h2v3.43h-2zM744 58.29h4v3.43h-4zM750 58.29h2v3.43h-2zM760 58.29h2v3.43h-2zM806 58.29h2v3.43h-2zM846 58.29h2v3.43h-2zM872 58.29h4v3.43h-4zM878 58.29h2v3.43h-2zM884 58.29h2v3.43h-2zM150 61.71h2v3.43h-2zM160 61.71h2v3.43h-2zM218 61.71h2v3.43h-2zM236 61.71h2v3.43h-2zM260 61.71h2v3.43h-2zM296 61.71h2v3.43h-2zM304 61.71h2v3.43h-2zM314 61.71h2v3.43h-2zM336 61.71h2v3.43h-2zM356 61.71h2v3.43h-2zM360 61.71h2v3.43h-2zM382 61.71h2v3.43h-2zM390 61.71h2v3.43h-2zM398 61.71h2v3.43h-2zM404 61.71h2v3.43h-2zM412 61.71h6v3.43h-6zM426 61.71h2v3.43h-2zM432 61.71h2v3.43h-2zM444 61.71h2v3.43h-2zM450 61.71h2v3.43h-2zM454 61.71h2v3.43h-2zM464 61.71h2v3.43h-2zM468 61.71h6v3.43h-6zM476 61.71h4v3.43h-4zM484 61.71h2v3.43h-2zM498 61.71h2v3.43h-2zM510 61.71h2v3.43h-2zM516 61.71h2v3.43h-2zM528 61.71h2v3.43h-2zM536 61.71h4v3.43h-4zM542 61.71h4v3.43h-4zM558 61.71h2v3.43h-2zM566 61.71h4v3.43h-4zM586 61.71h2v3.43h-2zM594 61.71h4v3.43h-4zM600 61.71h4v3.43h-4zM618 61.71h4v3.43h-4zM634 61.71h2v3.43h-2zM642 61.71h6v3.43h-6zM654 61.71h2v3.43h-2zM662 61.71h2v3.43h-2zM670 61.71h4v3.43h-4zM700 61.71h4v3.43h-4zM710 61.71h4v3.43h-4zM716 61.71h4v3.43h-4zM722 61.71h8v3.43h-8zM740 61.71h4v3.43h-4zM752 61.71h2v3.43h-2zM758 61.71h2v3.43h-2zM766 61.71h2v3.43h-2zM770 61.71h2v3.43h-2zM774 61.71h2v3.43h-2zM780 61.71h2v3.43h-2zM800 61.71h2v3.43h-2zM806 61.71h2v3.43h-2zM810 61.71h4v3.43h-4zM816 61.71h2v3.43h-2zM824 61.71h4v3.43h-4zM848 61.71h2v3.43h-2zM852 61.71h2v3.43h-2zM200 65.14h2v3.43h-2zM236 65.14h2v3.43h-2zM364 65.14h2v3.43h-2zM368 65.14h2v3.43h-2zM378 65.14h2v3.43h-2zM410 65.14h2v3.43h-2zM416 65.14h2v3.43h-2zM436 65.14h2v3.43h-2zM448 65.14h2v3.43h-2zM456 65.14h2v3.43h-2zM462 65.14h2v3.43h-2zM474 65.14h4v3.43h-4zM482 65.14h4v3.43h-4zM498 65.14h2v3.43h-2zM502 65.14h2v3.43h-2zM512 65.14h2v3.43h-2zM518 65.14h2v3.43h-2zM524 65.14h2v3.43h-2zM528 65.14h2v3.43h-2zM536 65.14h2v3.43h-2zM544 65.14h2v3.43h-2zM548 65.14h2v3.43h-2zM560 65.14h8v3.43h-8zM580 65.14h2v3.43h-2zM586 65.14h2v3.43h-2zM596 65.14h2v3.43h-2zM606 65.14h6v3.43h-6zM614 65.14h4v3.43h-4zM620 65.14h2v3.43h-2zM638 65.14h2v3.43h-2zM644 65.14h2v3.43h-2zM654 65.14h2v3.43h-2zM658 65.14h4v3.43h-4zM666 65.14h2v3.43h-2zM670 65.14h2v3.43h-2zM674 65.14h4v3.43h-4zM682 65.14h2v3.43h-2zM692 65.14h6v3.43h-6zM702 65.14h2v3.43h-2zM712 65.14h4v3.43h-4zM724 65.14h2v3.43h-2zM744 65.14h2v3.43h-2zM750 65.14h2v3.43h-2zM760 65.14h2v3.43h-2zM764 65.14h2v3.43h-2zM774 65.14h2v3.43h-2zM782 65.14h8v3.43h-8zM796 65.14h2v3.43h-2zM800 65.14h2v3.43h-2zM808 65.14h2v3.43h-2zM816 65.14h2v3.43h-2zM824 65.14h4v3.43h-4zM830 65.14h6v3.43h-6zM846 65.14h4v3.43h-4zM856 65.14h2v3.43h-2zM864 65.14h2v3.43h-2zM876 65.14h2v3.43h-2zM886 65.14h2v3.43h-2zM282 68.57h2v3.43h-2zM370 68.57h10v3.43h-10zM386 68.57h2v3.43h-2zM398 68.57h2v3.43h-2zM404 68.57h2v3.43h-2zM410 68.57h6v3.43h-6zM418 68.57h2v3.43h-2zM422 68.57h2v3.43h-2zM426 68.57h2v3.43h-2zM430 68.57h4v3.43h-4zM436 68.57h2v3.43h-2zM442 68.57h2v3.43h-2zM448 68.57h2v3.43h-2zM452 68.57h6v3.43h-6zM460 68.57h4v3.43h-4zM466 68.57h4v3.43h-4zM472 68.57h2v3.43h-2zM496 68.57h2v3.43h-2zM512 68.57h2v3.43h-2zM516 68.57h2v3.43h-2zM524 68.57h2v3.43h-2zM530 68.57h2v3.43h-2zM536 68.57h2v3.43h-2zM540 68.57h4v3.43h-4zM558 68.57h2v3.43h-2zM572 68.57h2v3.43h-2zM586 68.57h2v3.43h-2zM598 68.57h2v3.43h-2zM610 68.57h2v3.43h-2zM614 68.57h2v3.43h-2zM626 68.57h2v3.43h-2zM638 68.57h4v3.43h-4zM644 68.57h2v3.43h-2zM686 68.57h2v3.43h-2zM696 68.57h2v3.43h-2zM704 68.57h2v3.43h-2zM716 68.57h2v3.43h-2zM744 68.57h2v3.43h-2zM754 68.57h2v3.43h-2zM770 68.57h2v3.43h-2zM812 68.57h2v3.43h-2zM832 68.57h2v3.43h-2zM840 68.57h2v3.43h-2zM860 68.57h2v3.43h-2zM112 26.3h2v1.13h-2zM118 26.3h2v1.13h-2zM122 26.3h4v1.13h-4zM136 26.3h6v1.13h-6zM144 26.3h2v1.13h-2zM150 26.3h2v1.13h-2zM158 26.3h4v1.13h-4zM164 26.3h2v1.13h-2zM180 26.3h4v1.13h-4zM192 26.3h4v1.13h-4zM202 26.3h2v1.13h-2zM212 26.3h4v1.13h-4zM218 26.3h2v1.13h-2zM234 26.3h2v1.13h-2zM242 26.3h2v1.13h-2zM246 26.3h2v1.13h-2zM254 26.3h2v1.13h-2zM264 26.3h2v1.13h-2zM268 26.3h2v1.13h-2zM274 26.3h4v1.13h-4zM284 26.3h6v1.13h-6zM292 26.3h2v1.13h-2zM304 26.3h2v1.13h-2zM314 26.3h2v1.13h-2zM318 26.3h4v1.13h-4zM328 26.3h4v1.13h-4zM338 26.3h2v1.13h-2zM346 26.3h2v1.13h-2zM356 26.3h2v1.13h-2zM362 26.3h2v1.13h-2zM368 26.3h2v1.13h-2zM372 26.3h2v1.13h-2zM380 26.3h2v1.13h-2zM386 26.3h4v1.13h-4zM392 26.3h2v1.13h-2zM398 26.3h10v1.13h-10zM426 26.3h2v1.13h-2zM448 26.3h2v1.13h-2zM460 26.3h2v1.13h-2zM464 26.3h2v1.13h-2zM480 26.3h2v1.13h-2zM492 26.3h2v1.13h-2zM508 26.3h2v1.13h-2zM524 26.3h2v1.13h-2zM538 26.3h2v1.13h-2zM760 26.3h2v1.13h-2zM802 26.3h2v1.13h-2zM354 68.57h2v1.13h-2zM360 68.57h2v1.13h-2z"/><path fill="#dae7e7" d="M106 27.43h2v3.43h-2zM114 27.43h2v3.43h-2zM120 27.43h2v3.43h-2zM144 27.43h4v3.43h-4zM162 27.43h4v3.43h-4zM170 27.43h2v3.43h-2zM176 27.43h2v3.43h-2zM182 27.43h2v3.43h-2zM192 27.43h2v3.43h-2zM208 27.43h2v3.43h-2zM222 27.43h2v3.43h-2zM226 27.43h2v3.43h-2zM230 27.43h2v3.43h-2zM236 27.43h10v3.43h-10zM254 27.43h2v3.43h-2zM258 27.43h2v3.43h-2zM262 27.43h2v3.43h-2zM266 27.43h2v3.43h-2zM280 27.43h6v3.43h-6zM288 27.43h4v3.43h-4zM294 27.43h2v3.43h-2zM298 27.43h4v3.43h-4zM304 27.43h2v3.43h-2zM308 27.43h4v3.43h-4zM314 27.43h12v3.43h-12zM334 27.43h12v3.43h-12zM350 27.43h2v3.43h-2zM354 27.43h2v3.43h-2zM362 27.43h4v3.43h-4zM372 27.43h2v3.43h-2zM384 27.43h2v3.43h-2zM390 27.43h4v3.43h-4zM396 27.43h2v3.43h-2zM400 27.43h2v3.43h-2zM406 27.43h2v3.43h-2zM410 27.43h6v3.43h-6zM418 27.43h6v3.43h-6zM426 27.43h6v3.43h-6zM436 27.43h2v3.43h-2zM440 27.43h2v3.43h-2zM446 27.43h8v3.43h-8zM456 27.43h4v3.43h-4zM464 27.43h2v3.43h-2zM476 27.43h2v3.43h-2zM490 27.43h4v3.43h-4zM496 27.43h2v3.43h-2zM500 27.43h2v3.43h-2zM504 27.43h4v3.43h-4zM524 27.43h2v3.43h-2zM548 27.43h2v3.43h-2zM562 27.43h2v3.43h-2zM568 27.43h2v3.43h-2zM574 27.43h2v3.43h-2zM582 27.43h2v3.43h-2zM586 27.43h4v3.43h-4zM610 27.43h2v3.43h-2zM616 27.43h2v3.43h-2zM624 27.43h2v3.43h-2zM636 27.43h4v3.43h-4zM646 27.43h4v3.43h-4zM662 27.43h2v3.43h-2zM666 27.43h2v3.43h-2zM676 27.43h2v3.43h-2zM682 27.43h4v3.43h-4zM690 27.43h2v3.43h-2zM700 27.43h2v3.43h-2zM712 27.43h2v3.43h-2zM716 27.43h2v3.43h-2zM724 27.43h2v3.43h-2zM746 27.43h2v3.43h-2zM750 27.43h4v3.43h-4zM764 27.43h2v3.43h-2zM770 27.43h2v3.43h-2zM778 27.43h2v3.43h-2zM786 27.43h2v3.43h-2zM796 27.43h2v3.43h-2zM800 27.43h2v3.43h-2zM804 27.43h2v3.43h-2zM828 27.43h2v3.43h-2zM836 27.43h2v3.43h-2zM840 27.43h2v3.43h-2zM846 27.43h2v3.43h-2zM868 27.43h2v3.43h-2zM878 27.43h2v3.43h-2zM344 30.86h2v3.43h-2zM452 30.86h2v3.43h-2zM486 30.86h2v3.43h-2zM518 30.86h4v3.43h-4zM524 30.86h4v3.43h-4zM536 30.86h2v3.43h-2zM548 30.86h2v3.43h-2zM552 30.86h2v3.43h-2zM572 30.86h2v3.43h-2zM580 30.86h4v3.43h-4zM596 30.86h4v3.43h-4zM602 30.86h2v3.43h-2zM606 30.86h4v3.43h-4zM616 30.86h2v3.43h-2zM620 30.86h2v3.43h-2zM628 30.86h2v3.43h-2zM632 30.86h2v3.43h-2zM650 30.86h2v3.43h-2zM658 30.86h2v3.43h-2zM666 30.86h2v3.43h-2zM670 30.86h2v3.43h-2zM678 30.86h2v3.43h-2zM692 30.86h2v3.43h-2zM698 30.86h2v3.43h-2zM706 30.86h4v3.43h-4zM716 30.86h2v3.43h-2zM728 30.86h2v3.43h-2zM734 30.86h2v3.43h-2zM742 30.86h4v3.43h-4zM758 30.86h2v3.43h-2zM766 30.86h2v3.43h-2zM770 30.86h2v3.43h-2zM780 30.86h2v3.43h-2zM786 30.86h10v3.43h-10zM798 30.86h2v3.43h-2zM802 30.86h2v3.43h-2zM806 30.86h8v3.43h-8zM816 30.86h2v3.43h-2zM824 30.86h4v3.43h-4zM840 30.86h2v3.43h-2zM846 30.86h2v3.43h-2zM860 30.86h2v3.43h-2zM866 30.86h2v3.43h-2zM244 34.29h2v3.43h-2zM322 34.29h2v3.43h-2zM484 34.29h2v3.43h-2zM504 34.29h2v3.43h-2zM536 34.29h2v3.43h-2zM542 34.29h4v3.43h-4zM560 34.29h2v3.43h-2zM564 34.29h4v3.43h-4zM576 34.29h8v3.43h-8zM588 34.29h4v3.43h-4zM594 34.29h2v3.43h-2zM598 34.29h2v3.43h-2zM630 34.29h2v3.43h-2zM642 34.29h2v3.43h-2zM654 34.29h2v3.43h-2zM676 34.29h2v3.43h-2zM688 34.29h2v3.43h-2zM700 34.29h2v3.43h-2zM708 34.29h4v3.43h-4zM716 34.29h2v3.43h-2zM726 34.29h2v3.43h-2zM746 34.29h2v3.43h-2zM762 34.29h4v3.43h-4zM772 34.29h4v3.43h-4zM782 34.29h2v3.43h-2zM790 34.29h2v3.43h-2zM814 34.29h4v3.43h-4zM820 34.29h2v3.43h-2zM836 34.29h2v3.43h-2zM852 34.29h4v3.43h-4zM864 34.29h2v3.43h-2zM880 34.29h2v3.43h-2zM384 37.71h2v3.43h-2zM450 37.71h2v3.43h-2zM470 37.71h2v3.43h-2zM476 37.71h2v3.43h-2zM480 37.71h2v3.43h-2zM488 37.71h2v3.43h-2zM500 37.71h2v3.43h-2zM522 37.71h2v3.43h-2zM530 37.71h2v3.43h-2zM536 37.71h2v3.43h-2zM550 37.71h2v3.43h-2zM566 37.71h2v3.43h-2zM572 37.71h2v3.43h-2zM576 37.71h2v3.43h-2zM580 37.71h2v3.43h-2zM590 37.71h2v3.43h-2zM596 37.71h4v3.43h-4zM602 37.71h2v3.43h-2zM606 37.71h4v3.43h-4zM616 37.71h2v3.43h-2zM620 37.71h2v3.43h-2zM630 37.71h6v3.43h-6zM652 37.71h2v3.43h-2zM674 37.71h2v3.43h-2zM682 37.71h6v3.43h-6zM700 37.71h2v3.43h-2zM704 37.71h2v3.43h-2zM712 37.71h2v3.43h-2zM728 37.71h6v3.43h-6zM738 37.71h2v3.43h-2zM742 37.71h4v3.43h-4zM752 37.71h4v3.43h-4zM762 37.71h2v3.43h-2zM766 37.71h4v3.43h-4zM794 37.71h2v3.43h-2zM822 37.71h2v3.43h-2zM834 37.71h4v3.43h-4zM840 37.71h2v3.43h-2zM864 37.71h4v3.43h-4zM886 37.71h2v3.43h-2zM114 41.14h2v3.43h-2zM146 41.14h2v3.43h-2zM150 41.14h2v3.43h-2zM172 41.14h2v3.43h-2zM176 41.14h2v3.43h-2zM334 41.14h2v3.43h-2zM340 41.14h2v3.43h-2zM356 41.14h2v3.43h-2zM480 41.14h2v3.43h-2zM494 41.14h2v3.43h-2zM516 41.14h2v3.43h-2zM534 41.14h2v3.43h-2zM556 41.14h2v3.43h-2zM572 41.14h2v3.43h-2zM580 41.14h2v3.43h-2zM618 41.14h2v3.43h-2zM636 41.14h2v3.43h-2zM642 41.14h2v3.43h-2zM684 41.14h2v3.43h-2zM708 41.14h2v3.43h-2zM724 41.14h2v3.43h-2zM746 41.14h4v3.43h-4zM754 41.14h2v3.43h-2zM776 41.14h2v3.43h-2zM822 41.14h2v3.43h-2zM838 41.14h2v3.43h-2zM864 41.14h4v3.43h-4zM872 41.14h2v3.43h-2zM876 41.14h2v3.43h-2zM142 54.86h2v3.43h-2zM120 58.29h2v3.43h-2zM124 58.29h2v3.43h-2zM128 58.29h2v3.43h-2zM136 58.29h2v3.43h-2zM144 58.29h2v3.43h-2zM150 58.29h2v3.43h-2zM160 58.29h10v3.43h-10zM180 58.29h4v3.43h-4zM208 58.29h2v3.43h-2zM224 58.29h2v3.43h-2zM232 58.29h2v3.43h-2zM250 58.29h2v3.43h-2zM254 58.29h2v3.43h-2zM262 58.29h2v3.43h-2zM270 58.29h2v3.43h-2zM276 58.29h2v3.43h-2zM280 58.29h2v3.43h-2zM288 58.29h4v3.43h-4zM296 58.29h2v3.43h-2zM304 58.29h2v3.43h-2zM318 58.29h4v3.43h-4zM330 58.29h2v3.43h-2zM338 58.29h4v3.43h-4zM346 58.29h4v3.43h-4zM364 58.29h2v3.43h-2zM376 58.29h2v3.43h-2zM388 58.29h2v3.43h-2zM416 58.29h2v3.43h-2zM422 58.29h2v3.43h-2zM426 58.29h2v3.43h-2zM464 58.29h6v3.43h-6zM482 58.29h2v3.43h-2zM490 58.29h4v3.43h-4zM500 58.29h2v3.43h-2zM520 58.29h2v3.43h-2zM528 58.29h2v3.43h-2zM538 58.29h2v3.43h-2zM562 58.29h2v3.43h-2zM586 58.29h2v3.43h-2zM592 58.29h2v3.43h-2zM600 58.29h4v3.43h-4zM606 58.29h2v3.43h-2zM614 58.29h2v3.43h-2zM620 58.29h6v3.43h-6zM628 58.29h6v3.43h-6zM648 58.29h2v3.43h-2zM654 58.29h2v3.43h-2zM658 58.29h2v3.43h-2zM672 58.29h2v3.43h-2zM690 58.29h2v3.43h-2zM700 58.29h2v3.43h-2zM706 58.29h2v3.43h-2zM712 58.29h2v3.43h-2zM722 58.29h2v3.43h-2zM726 58.29h2v3.43h-2zM742 58.29h2v3.43h-2zM748 58.29h2v3.43h-2zM752 58.29h2v3.43h-2zM762 58.29h2v3.43h-2zM766 58.29h2v3.43h-2zM782 58.29h2v3.43h-2zM788 58.29h2v3.43h-2zM794 58.29h4v3.43h-4zM808 58.29h2v3.43h-2zM822 58.29h2v3.43h-2zM826 58.29h2v3.43h-2zM830 58.29h2v3.43h-2zM838 58.29h4v3.43h-4zM856 58.29h2v3.43h-2zM868 58.29h2v3.43h-2zM320 61.71h2v3.43h-2zM376 61.71h2v3.43h-2zM456 61.71h2v3.43h-2zM460 61.71h2v3.43h-2zM488 61.71h2v3.43h-2zM494 61.71h2v3.43h-2zM520 61.71h6v3.43h-6zM530 61.71h2v3.43h-2zM534 61.71h2v3.43h-2zM550 61.71h2v3.43h-2zM554 61.71h2v3.43h-2zM562 61.71h4v3.43h-4zM576 61.71h2v3.43h-2zM590 61.71h2v3.43h-2zM598 61.71h2v3.43h-2zM604 61.71h4v3.43h-4zM612 61.71h2v3.43h-2zM624 61.71h2v3.43h-2zM628 61.71h2v3.43h-2zM648 61.71h2v3.43h-2zM656 61.71h2v3.43h-2zM660 61.71h2v3.43h-2zM666 61.71h4v3.43h-4zM674 61.71h2v3.43h-2zM684 61.71h2v3.43h-2zM688 61.71h4v3.43h-4zM694 61.71h2v3.43h-2zM704 61.71h2v3.43h-2zM714 61.71h2v3.43h-2zM720 61.71h2v3.43h-2zM734 61.71h4v3.43h-4zM744 61.71h4v3.43h-4zM772 61.71h2v3.43h-2zM776 61.71h2v3.43h-2zM786 61.71h2v3.43h-2zM790 61.71h2v3.43h-2zM794 61.71h6v3.43h-6zM802 61.71h2v3.43h-2zM808 61.71h2v3.43h-2zM822 61.71h2v3.43h-2zM828 61.71h2v3.43h-2zM838 61.71h2v3.43h-2zM842 61.71h4v3.43h-4zM854 61.71h2v3.43h-2zM864 61.71h2v3.43h-2zM878 61.71h2v3.43h-2zM888 61.71h3v3.43h-3zM504 65.14h2v3.43h-2zM514 65.14h4v3.43h-4zM534 65.14h2v3.43h-2zM540 65.14h2v3.43h-2zM546 65.14h2v3.43h-2zM550 65.14h6v3.43h-6zM570 65.14h10v3.43h-10zM588 65.14h4v3.43h-4zM602 65.14h2v3.43h-2zM624 65.14h4v3.43h-4zM642 65.14h2v3.43h-2zM650 65.14h2v3.43h-2zM656 65.14h2v3.43h-2zM662 65.14h2v3.43h-2zM668 65.14h2v3.43h-2zM672 65.14h2v3.43h-2zM680 65.14h2v3.43h-2zM706 65.14h4v3.43h-4zM728 65.14h2v3.43h-2zM732 65.14h2v3.43h-2zM738 65.14h2v3.43h-2zM742 65.14h2v3.43h-2zM746 65.14h2v3.43h-2zM754 65.14h2v3.43h-2zM770 65.14h2v3.43h-2zM776 65.14h2v3.43h-2zM790 65.14h2v3.43h-2zM812 65.14h4v3.43h-4zM818 65.14h2v3.43h-2zM822 65.14h2v3.43h-2zM838 65.14h4v3.43h-4zM852 65.14h2v3.43h-2zM868 65.14h4v3.43h-4zM362 68.57h2v3.43h-2zM368 68.57h2v3.43h-2zM380 68.57h2v3.43h-2zM384 68.57h2v3.43h-2zM388 68.57h2v3.43h-2zM396 68.57h2v3.43h-2zM400 68.57h2v3.43h-2zM408 68.57h2v3.43h-2zM416 68.57h2v3.43h-2zM428 68.57h2v3.43h-2zM434 68.57h2v3.43h-2zM444 68.57h4v3.43h-4zM450 68.57h2v3.43h-2zM458 68.57h2v3.43h-2zM464 68.57h2v3.43h-2zM470 68.57h2v3.43h-2zM476 68.57h4v3.43h-4zM482 68.57h2v3.43h-2zM486 68.57h10v3.43h-10zM502 68.57h2v3.43h-2zM510 68.57h2v3.43h-2zM518 68.57h2v3.43h-2zM538 68.57h2v3.43h-2zM544 68.57h2v3.43h-2zM554 68.57h2v3.43h-2zM574 68.57h2v3.43h-2zM582 68.57h4v3.43h-4zM596 68.57h2v3.43h-2zM602 68.57h2v3.43h-2zM612 68.57h2v3.43h-2zM628 68.57h4v3.43h-4zM634 68.57h4v3.43h-4zM642 68.57h2v3.43h-2zM660 68.57h2v3.43h-2zM666 68.57h2v3.43h-2zM678 68.57h2v3.43h-2zM688 68.57h2v3.43h-2zM698 68.57h2v3.43h-2zM706 68.57h4v3.43h-4zM712 68.57h4v3.43h-4zM720 68.57h4v3.43h-4zM726 68.57h2v3.43h-2zM740 68.57h4v3.43h-4zM748 68.57h2v3.43h-2zM760 68.57h2v3.43h-2zM768 68.57h2v3.43h-2zM782 68.57h2v3.43h-2zM808 68.57h2v3.43h-2zM814 68.57h2v3.43h-2zM818 68.57h2v3.43h-2zM826 68.57h6v3.43h-6zM834 68.57h6v3.43h-6zM842 68.57h2v3.43h-2zM846 68.57h2v3.43h-2zM854 68.57h2v3.43h-2zM100 26.3h12v1.13h-12zM114 26.3h4v1.13h-4zM120 26.3h2v1.13h-2zM126 26.3h2v1.13h-2zM130 26.3h6v1.13h-6zM142 26.3h2v1.13h-2zM146 26.3h4v1.13h-4zM152 26.3h6v1.13h-6zM162 26.3h2v1.13h-2zM166 26.3h4v1.13h-4zM172 26.3h8v1.13h-8zM184 26.3h8v1.13h-8zM196 26.3h6v1.13h-6zM204 26.3h8v1.13h-8zM220 26.3h8v1.13h-8zM230 26.3h2v1.13h-2zM236 26.3h2v1.13h-2zM240 26.3h2v1.13h-2zM244 26.3h2v1.13h-2zM252 26.3h2v1.13h-2zM256 26.3h8v1.13h-8zM266 26.3h2v1.13h-2zM270 26.3h4v1.13h-4zM278 26.3h6v1.13h-6zM290 26.3h2v1.13h-2zM294 26.3h10v1.13h-10zM306 26.3h4v1.13h-4zM312 26.3h2v1.13h-2zM316 26.3h2v1.13h-2zM322 26.3h6v1.13h-6zM332 26.3h4v1.13h-4zM348 26.3h8v1.13h-8zM360 26.3h2v1.13h-2zM370 26.3h2v1.13h-2zM390 26.3h2v1.13h-2zM394 26.3h2v1.13h-2zM408 26.3h8v1.13h-8zM418 26.3h2v1.13h-2zM422 26.3h4v1.13h-4zM428 26.3h2v1.13h-2zM432 26.3h2v1.13h-2zM436 26.3h4v1.13h-4zM442 26.3h2v1.13h-2zM450 26.3h2v1.13h-2zM454 26.3h6v1.13h-6zM468 26.3h6v1.13h-6zM482 26.3h8v1.13h-8zM500 26.3h2v1.13h-2zM504 26.3h2v1.13h-2zM510 26.3h6v1.13h-6zM534 26.3h2v1.13h-2zM544 26.3h6v1.13h-6zM552 26.3h2v1.13h-2zM558 26.3h4v1.13h-4zM564 26.3h2v1.13h-2zM570 26.3h2v1.13h-2zM606 26.3h2v1.13h-2zM616 26.3h2v1.13h-2zM670 26.3h2v1.13h-2zM686 26.3h2v1.13h-2zM702 26.3h2v1.13h-2zM724 26.3h2v1.13h-2zM734 26.3h2v1.13h-2zM738 26.3h2v1.13h-2zM758 26.3h2v1.13h-2zM764 26.3h2v1.13h-2zM774 26.3h2v1.13h-2zM778 26.3h4v1.13h-4zM788 26.3h2v1.13h-2zM806 26.3h2v1.13h-2zM826 26.3h4v1.13h-4zM838 26.3h2v1.13h-2zM844 26.3h2v1.13h-2zM850 26.3h2v1.13h-2z"/><path fill="#cee0df" d="M214 27.43h2v3.43h-2zM232 27.43h2v3.43h-2zM306 27.43h2v3.43h-2zM366 27.43h2v3.43h-2zM378 27.43h2v3.43h-2zM388 27.43h2v3.43h-2zM402 27.43h2v3.43h-2zM416 27.43h2v3.43h-2zM432 27.43h4v3.43h-4zM438 27.43h2v3.43h-2zM442 27.43h2v3.43h-2zM460 27.43h4v3.43h-4zM468 27.43h2v3.43h-2zM480 27.43h2v3.43h-2zM484 27.43h6v3.43h-6zM498 27.43h2v3.43h-2zM514 27.43h4v3.43h-4zM520 27.43h2v3.43h-2zM528 27.43h6v3.43h-6zM542 27.43h4v3.43h-4zM550 27.43h2v3.43h-2zM564 27.43h2v3.43h-2zM570 27.43h2v3.43h-2zM584 27.43h2v3.43h-2zM590 27.43h2v3.43h-2zM596 27.43h2v3.43h-2zM602 27.43h2v3.43h-2zM606 27.43h2v3.43h-2zM628 27.43h2v3.43h-2zM634 27.43h2v3.43h-2zM660 27.43h2v3.43h-2zM678 27.43h2v3.43h-2zM710 27.43h2v3.43h-2zM736 27.43h2v3.43h-2zM744 27.43h2v3.43h-2zM754 27.43h2v3.43h-2zM794 27.43h2v3.43h-2zM826 27.43h2v3.43h-2zM854 27.43h4v3.43h-4zM864 27.43h2v3.43h-2zM876 27.43h2v3.43h-2zM884 27.43h4v3.43h-4zM306 30.86h2v3.43h-2zM334 30.86h2v3.43h-2zM502 30.86h4v3.43h-4zM550 30.86h2v3.43h-2zM560 30.86h2v3.43h-2zM576 30.86h2v3.43h-2zM586 30.86h4v3.43h-4zM610 30.86h2v3.43h-2zM646 30.86h2v3.43h-2zM672 30.86h2v3.43h-2zM736 30.86h2v3.43h-2zM752 30.86h2v3.43h-2zM764 30.86h2v3.43h-2zM774 30.86h2v3.43h-2zM848 30.86h4v3.43h-4zM858 30.86h2v3.43h-2zM870 30.86h2v3.43h-2zM876 30.86h2v3.43h-2zM880 30.86h4v3.43h-4zM248 34.29h2v3.43h-2zM524 34.29h2v3.43h-2zM550 34.29h2v3.43h-2zM572 34.29h2v3.43h-2zM596 34.29h2v3.43h-2zM610 34.29h2v3.43h-2zM624 34.29h2v3.43h-2zM640 34.29h2v3.43h-2zM662 34.29h2v3.43h-2zM672 34.29h2v3.43h-2zM714 34.29h2v3.43h-2zM724 34.29h2v3.43h-2zM734 34.29h2v3.43h-2zM744 34.29h2v3.43h-2zM770 34.29h2v3.43h-2zM822 34.29h2v3.43h-2zM832 34.29h2v3.43h-2zM856 34.29h2v3.43h-2zM866 34.29h2v3.43h-2zM874 34.29h4v3.43h-4zM890 34.29h1v3.43h-1zM162 37.71h2v3.43h-2zM246 37.71h2v3.43h-2zM504 37.71h2v3.43h-2zM516 37.71h2v3.43h-2zM546 37.71h2v3.43h-2zM556 37.71h2v3.43h-2zM562 37.71h2v3.43h-2zM574 37.71h2v3.43h-2zM592 37.71h2v3.43h-2zM626 37.71h2v3.43h-2zM636 37.71h2v3.43h-2zM702 37.71h2v3.43h-2zM716 37.71h2v3.43h-2zM722 37.71h2v3.43h-2zM726 37.71h2v3.43h-2zM740 37.71h2v3.43h-2zM746 37.71h4v3.43h-4zM804 37.71h4v3.43h-4zM812 37.71h2v3.43h-2zM818 37.71h2v3.43h-2zM826 37.71h6v3.43h-6zM842 37.71h2v3.43h-2zM852 37.71h4v3.43h-4zM872 37.71h2v3.43h-2zM876 37.71h2v3.43h-2zM882 37.71h2v3.43h-2zM888 37.71h2v3.43h-2zM116 41.14h2v3.43h-2zM142 41.14h2v3.43h-2zM152 41.14h2v3.43h-2zM162 41.14h2v3.43h-2zM166 41.14h6v3.43h-6zM184 41.14h2v3.43h-2zM192 41.14h2v3.43h-2zM208 41.14h4v3.43h-4zM234 41.14h2v3.43h-2zM268 41.14h2v3.43h-2zM276 41.14h2v3.43h-2zM284 41.14h6v3.43h-6zM296 41.14h2v3.43h-2zM306 41.14h2v3.43h-2zM310 41.14h4v3.43h-4zM342 41.14h2v3.43h-2zM352 41.14h2v3.43h-2zM406 41.14h4v3.43h-4zM460 41.14h2v3.43h-2zM472 41.14h2v3.43h-2zM478 41.14h2v3.43h-2zM502 41.14h4v3.43h-4zM528 41.14h2v3.43h-2zM570 41.14h2v3.43h-2zM582 41.14h4v3.43h-4zM590 41.14h2v3.43h-2zM600 41.14h2v3.43h-2zM612 41.14h2v3.43h-2zM620 41.14h6v3.43h-6zM648 41.14h2v3.43h-2zM654 41.14h2v3.43h-2zM660 41.14h4v3.43h-4zM666 41.14h2v3.43h-2zM674 41.14h2v3.43h-2zM678 41.14h2v3.43h-2zM682 41.14h2v3.43h-2zM692 41.14h4v3.43h-4zM700 41.14h2v3.43h-2zM712 41.14h6v3.43h-6zM722 41.14h2v3.43h-2zM732 41.14h2v3.43h-2zM736 41.14h4v3.43h-4zM744 41.14h2v3.43h-2zM758 41.14h2v3.43h-2zM780 41.14h2v3.43h-2zM784 41.14h2v3.43h-2zM792 41.14h4v3.43h-4zM800 41.14h2v3.43h-2zM806 41.14h2v3.43h-2zM824 41.14h2v3.43h-2zM828 41.14h2v3.43h-2zM832 41.14h2v3.43h-2zM836 41.14h2v3.43h-2zM848 41.14h2v3.43h-2zM880 41.14h2v3.43h-2zM128 44.57h2v3.43h-2zM630 44.57h2v3.43h-2zM776 44.57h2v3.43h-2zM788 44.57h2v3.43h-2zM128 48h2v3.43h-2zM862 48h2v3.43h-2zM878 51.43h2v3.43h-2zM120 54.86h2v3.43h-2zM126 54.86h2v3.43h-2zM140 54.86h2v3.43h-2zM186 54.86h2v3.43h-2zM192 54.86h2v3.43h-2zM598 54.86h2v3.43h-2zM734 54.86h2v3.43h-2zM742 54.86h2v3.43h-2zM748 54.86h2v3.43h-2zM768 54.86h2v3.43h-2zM872 54.86h2v3.43h-2zM882 54.86h2v3.43h-2zM154 58.29h2v3.43h-2zM170 58.29h2v3.43h-2zM178 58.29h2v3.43h-2zM184 58.29h4v3.43h-4zM196 58.29h6v3.43h-6zM204 58.29h4v3.43h-4zM214 58.29h2v3.43h-2zM218 58.29h2v3.43h-2zM236 58.29h2v3.43h-2zM240 58.29h2v3.43h-2zM244 58.29h6v3.43h-6zM258 58.29h4v3.43h-4zM264 58.29h4v3.43h-4zM274 58.29h2v3.43h-2zM284 58.29h4v3.43h-4zM300 58.29h4v3.43h-4zM308 58.29h4v3.43h-4zM314 58.29h2v3.43h-2zM322 58.29h4v3.43h-4zM332 58.29h6v3.43h-6zM354 58.29h2v3.43h-2zM360 58.29h2v3.43h-2zM370 58.29h2v3.43h-2zM380 58.29h2v3.43h-2zM384 58.29h2v3.43h-2zM398 58.29h2v3.43h-2zM402 58.29h2v3.43h-2zM408 58.29h4v3.43h-4zM418 58.29h2v3.43h-2zM424 58.29h2v3.43h-2zM434 58.29h2v3.43h-2zM448 58.29h2v3.43h-2zM456 58.29h2v3.43h-2zM462 58.29h2v3.43h-2zM472 58.29h6v3.43h-6zM480 58.29h2v3.43h-2zM484 58.29h2v3.43h-2zM488 58.29h2v3.43h-2zM498 58.29h2v3.43h-2zM508 58.29h2v3.43h-2zM518 58.29h2v3.43h-2zM532 58.29h6v3.43h-6zM542 58.29h2v3.43h-2zM546 58.29h2v3.43h-2zM554 58.29h2v3.43h-2zM558 58.29h4v3.43h-4zM566 58.29h6v3.43h-6zM576 58.29h6v3.43h-6zM598 58.29h2v3.43h-2zM610 58.29h4v3.43h-4zM618 58.29h2v3.43h-2zM626 58.29h2v3.43h-2zM636 58.29h2v3.43h-2zM642 58.29h2v3.43h-2zM650 58.29h4v3.43h-4zM664 58.29h2v3.43h-2zM668 58.29h4v3.43h-4zM676 58.29h2v3.43h-2zM682 58.29h2v3.43h-2zM688 58.29h2v3.43h-2zM692 58.29h4v3.43h-4zM698 58.29h2v3.43h-2zM702 58.29h4v3.43h-4zM714 58.29h2v3.43h-2zM718 58.29h4v3.43h-4zM738 58.29h4v3.43h-4zM754 58.29h2v3.43h-2zM772 58.29h2v3.43h-2zM776 58.29h4v3.43h-4zM784 58.29h4v3.43h-4zM798 58.29h6v3.43h-6zM810 58.29h4v3.43h-4zM816 58.29h4v3.43h-4zM824 58.29h2v3.43h-2zM832 58.29h4v3.43h-4zM844 58.29h2v3.43h-2zM848 58.29h2v3.43h-2zM852 58.29h2v3.43h-2zM888 58.29h2v3.43h-2zM504 61.71h2v3.43h-2zM526 61.71h2v3.43h-2zM548 61.71h2v3.43h-2zM552 61.71h2v3.43h-2zM556 61.71h2v3.43h-2zM560 61.71h2v3.43h-2zM570 61.71h6v3.43h-6zM580 61.71h2v3.43h-2zM592 61.71h2v3.43h-2zM630 61.71h4v3.43h-4zM636 61.71h6v3.43h-6zM658 61.71h2v3.43h-2zM680 61.71h2v3.43h-2zM692 61.71h2v3.43h-2zM698 61.71h2v3.43h-2zM706 61.71h2v3.43h-2zM730 61.71h2v3.43h-2zM738 61.71h2v3.43h-2zM748 61.71h4v3.43h-4zM760 61.71h4v3.43h-4zM768 61.71h2v3.43h-2zM792 61.71h2v3.43h-2zM840 61.71h2v3.43h-2zM846 61.71h2v3.43h-2zM850 61.71h2v3.43h-2zM856 61.71h4v3.43h-4zM866 61.71h4v3.43h-4zM882 61.71h2v3.43h-2zM270 65.14h2v3.43h-2zM520 65.14h2v3.43h-2zM598 65.14h2v3.43h-2zM652 65.14h2v3.43h-2zM772 65.14h2v3.43h-2zM820 65.14h2v3.43h-2zM828 65.14h2v3.43h-2zM866 65.14h2v3.43h-2zM874 65.14h2v3.43h-2zM884 65.14h2v3.43h-2zM890 65.14h1v3.43h-1zM220 68.57h2v3.43h-2zM262 68.57h2v3.43h-2zM366 68.57h2v3.43h-2zM390 68.57h2v3.43h-2zM420 68.57h2v3.43h-2zM440 68.57h2v3.43h-2zM474 68.57h2v3.43h-2zM484 68.57h2v3.43h-2zM504 68.57h6v3.43h-6zM522 68.57h2v3.43h-2zM528 68.57h2v3.43h-2zM532 68.57h4v3.43h-4zM546 68.57h6v3.43h-6zM556 68.57h2v3.43h-2zM562 68.57h2v3.43h-2zM568 68.57h2v3.43h-2zM576 68.57h6v3.43h-6zM588 68.57h4v3.43h-4zM600 68.57h2v3.43h-2zM604 68.57h2v3.43h-2zM608 68.57h2v3.43h-2zM616 68.57h4v3.43h-4zM622 68.57h2v3.43h-2zM646 68.57h2v3.43h-2zM650 68.57h6v3.43h-6zM658 68.57h2v3.43h-2zM664 68.57h2v3.43h-2zM668 68.57h2v3.43h-2zM674 68.57h2v3.43h-2zM684 68.57h2v3.43h-2zM690 68.57h2v3.43h-2zM700 68.57h2v3.43h-2zM718 68.57h2v3.43h-2zM730 68.57h4v3.43h-4zM738 68.57h2v3.43h-2zM756 68.57h2v3.43h-2zM764 68.57h4v3.43h-4zM772 68.57h2v3.43h-2zM778 68.57h4v3.43h-4zM786 68.57h4v3.43h-4zM794 68.57h2v3.43h-2zM798 68.57h2v3.43h-2zM802 68.57h4v3.43h-4zM816 68.57h2v3.43h-2zM820 68.57h4v3.43h-4zM844 68.57h2v3.43h-2zM856 68.57h2v3.43h-2zM862 68.57h2v3.43h-2zM878 68.57h2v3.43h-2zM884 68.57h2v3.43h-2zM888 68.57h2v3.43h-2zM128 26.3h2v1.13h-2zM248 26.3h2v1.13h-2zM310 26.3h2v1.13h-2zM358 26.3h2v1.13h-2zM364 26.3h4v1.13h-4zM374 26.3h2v1.13h-2zM382 26.3h4v1.13h-4zM396 26.3h2v1.13h-2zM416 26.3h2v1.13h-2zM420 26.3h2v1.13h-2zM430 26.3h2v1.13h-2zM434 26.3h2v1.13h-2zM444 26.3h4v1.13h-4zM452 26.3h2v1.13h-2zM462 26.3h2v1.13h-2zM466 26.3h2v1.13h-2zM474 26.3h4v1.13h-4zM490 26.3h2v1.13h-2zM496 26.3h2v1.13h-2zM502 26.3h2v1.13h-2zM506 26.3h2v1.13h-2zM516 26.3h8v1.13h-8zM528 26.3h2v1.13h-2zM532 26.3h2v1.13h-2zM540 26.3h2v1.13h-2zM554 26.3h4v1.13h-4zM562 26.3h2v1.13h-2zM566 26.3h2v1.13h-2zM576 26.3h2v1.13h-2zM584 26.3h2v1.13h-2zM590 26.3h2v1.13h-2zM594 26.3h2v1.13h-2zM610 26.3h2v1.13h-2zM618 26.3h4v1.13h-4zM624 26.3h2v1.13h-2zM634 26.3h2v1.13h-2zM646 26.3h2v1.13h-2zM654 26.3h4v1.13h-4zM662 26.3h8v1.13h-8zM672 26.3h2v1.13h-2zM682 26.3h2v1.13h-2zM688 26.3h2v1.13h-2zM692 26.3h2v1.13h-2zM696 26.3h2v1.13h-2zM714 26.3h4v1.13h-4zM732 26.3h2v1.13h-2zM750 26.3h2v1.13h-2zM762 26.3h2v1.13h-2zM776 26.3h2v1.13h-2zM782 26.3h2v1.13h-2zM790 26.3h2v1.13h-2zM794 26.3h2v1.13h-2zM798 26.3h2v1.13h-2zM810 26.3h2v1.13h-2zM816 26.3h2v1.13h-2zM822 26.3h4v1.13h-4zM832 26.3h2v1.13h-2zM836 26.3h2v1.13h-2zM840 26.3h2v1.13h-2zM848 26.3h2v1.13h-2zM854 26.3h4v1.13h-4zM888 26.3h2v1.13h-2z"/><path fill="#c1d8d8" d="M196 27.43h2v3.43h-2zM454 27.43h2v3.43h-2zM478 27.43h2v3.43h-2zM502 27.43h2v3.43h-2zM508 27.43h6v3.43h-6zM522 27.43h2v3.43h-2zM534 27.43h8v3.43h-8zM552 27.43h4v3.43h-4zM558 27.43h4v3.43h-4zM566 27.43h2v3.43h-2zM572 27.43h2v3.43h-2zM576 27.43h6v3.43h-6zM592 27.43h4v3.43h-4zM598 27.43h2v3.43h-2zM608 27.43h2v3.43h-2zM614 27.43h2v3.43h-2zM618 27.43h2v3.43h-2zM626 27.43h2v3.43h-2zM674 27.43h2v3.43h-2zM698 27.43h2v3.43h-2zM848 27.43h2v3.43h-2zM860 27.43h2v3.43h-2zM866 27.43h2v3.43h-2zM872 27.43h2v3.43h-2zM882 27.43h2v3.43h-2zM888 27.43h2v3.43h-2zM338 30.86h2v3.43h-2zM592 30.86h2v3.43h-2zM864 30.86h2v3.43h-2zM868 30.86h2v3.43h-2zM874 30.86h2v3.43h-2zM168 34.29h2v3.43h-2zM194 34.29h2v3.43h-2zM92 37.71h2v3.43h-2zM144 37.71h2v3.43h-2zM202 37.71h2v3.43h-2zM514 37.71h2v3.43h-2zM560 37.71h2v3.43h-2zM612 37.71h2v3.43h-2zM618 37.71h2v3.43h-2zM638 37.71h4v3.43h-4zM660 37.71h2v3.43h-2zM672 37.71h2v3.43h-2zM688 37.71h2v3.43h-2zM802 37.71h2v3.43h-2zM816 37.71h2v3.43h-2zM824 37.71h2v3.43h-2zM850 37.71h2v3.43h-2zM856 37.71h2v3.43h-2zM860 37.71h4v3.43h-4zM868 37.71h2v3.43h-2zM104 41.14h2v3.43h-2zM108 41.14h2v3.43h-2zM128 41.14h2v3.43h-2zM148 41.14h2v3.43h-2zM178 41.14h4v3.43h-4zM190 41.14h2v3.43h-2zM196 41.14h2v3.43h-2zM206 41.14h2v3.43h-2zM212 41.14h2v3.43h-2zM226 41.14h2v3.43h-2zM256 41.14h2v3.43h-2zM260 41.14h4v3.43h-4zM270 41.14h2v3.43h-2zM274 41.14h2v3.43h-2zM300 41.14h2v3.43h-2zM322 41.14h4v3.43h-4zM328 41.14h2v3.43h-2zM338 41.14h2v3.43h-2zM348 41.14h4v3.43h-4zM370 41.14h4v3.43h-4zM384 41.14h2v3.43h-2zM394 41.14h2v3.43h-2zM402 41.14h4v3.43h-4zM412 41.14h2v3.43h-2zM424 41.14h2v3.43h-2zM438 41.14h2v3.43h-2zM442 41.14h8v3.43h-8zM466 41.14h2v3.43h-2zM482 41.14h2v3.43h-2zM496 41.14h6v3.43h-6zM510 41.14h2v3.43h-2zM514 41.14h2v3.43h-2zM518 41.14h4v3.43h-4zM524 41.14h2v3.43h-2zM536 41.14h2v3.43h-2zM540 41.14h6v3.43h-6zM552 41.14h4v3.43h-4zM564 41.14h2v3.43h-2zM568 41.14h2v3.43h-2zM576 41.14h2v3.43h-2zM586 41.14h4v3.43h-4zM594 41.14h2v3.43h-2zM606 41.14h2v3.43h-2zM614 41.14h4v3.43h-4zM626 41.14h2v3.43h-2zM634 41.14h2v3.43h-2zM638 41.14h4v3.43h-4zM646 41.14h2v3.43h-2zM656 41.14h2v3.43h-2zM670 41.14h2v3.43h-2zM690 41.14h2v3.43h-2zM706 41.14h2v3.43h-2zM710 41.14h2v3.43h-2zM742 41.14h2v3.43h-2zM750 41.14h4v3.43h-4zM760 41.14h6v3.43h-6zM768 41.14h8v3.43h-8zM778 41.14h2v3.43h-2zM782 41.14h2v3.43h-2zM788 41.14h2v3.43h-2zM796 41.14h2v3.43h-2zM808 41.14h2v3.43h-2zM812 41.14h8v3.43h-8zM840 41.14h2v3.43h-2zM844 41.14h2v3.43h-2zM886 41.14h2v3.43h-2zM420 44.57h2v3.43h-2zM512 44.57h2v3.43h-2zM540 44.57h2v3.43h-2zM544 44.57h2v3.43h-2zM568 44.57h2v3.43h-2zM698 44.57h2v3.43h-2zM742 44.57h2v3.43h-2zM760 44.57h2v3.43h-2zM766 44.57h2v3.43h-2zM772 44.57h2v3.43h-2zM782 44.57h2v3.43h-2zM798 44.57h2v3.43h-2zM818 44.57h2v3.43h-2zM848 44.57h2v3.43h-2zM844 48h2v3.43h-2zM890 51.43h1v3.43h-1zM108 54.86h2v3.43h-2zM112 54.86h2v3.43h-2zM146 54.86h4v3.43h-4zM158 54.86h2v3.43h-2zM162 54.86h2v3.43h-2zM188 54.86h2v3.43h-2zM212 54.86h2v3.43h-2zM314 54.86h2v3.43h-2zM404 54.86h2v3.43h-2zM440 54.86h2v3.43h-2zM544 54.86h2v3.43h-2zM560 54.86h2v3.43h-2zM564 54.86h4v3.43h-4zM602 54.86h2v3.43h-2zM624 54.86h2v3.43h-2zM630 54.86h2v3.43h-2zM664 54.86h2v3.43h-2zM690 54.86h2v3.43h-2zM858 54.86h2v3.43h-2zM866 54.86h2v3.43h-2zM888 54.86h2v3.43h-2zM152 58.29h2v3.43h-2zM174 58.29h2v3.43h-2zM190 58.29h4v3.43h-4zM202 58.29h2v3.43h-2zM210 58.29h2v3.43h-2zM220 58.29h4v3.43h-4zM230 58.29h2v3.43h-2zM238 58.29h2v3.43h-2zM242 58.29h2v3.43h-2zM268 58.29h2v3.43h-2zM272 58.29h2v3.43h-2zM282 58.29h2v3.43h-2zM292 58.29h2v3.43h-2zM306 58.29h2v3.43h-2zM312 58.29h2v3.43h-2zM316 58.29h2v3.43h-2zM352 58.29h2v3.43h-2zM356 58.29h2v3.43h-2zM366 58.29h2v3.43h-2zM374 58.29h2v3.43h-2zM378 58.29h2v3.43h-2zM382 58.29h2v3.43h-2zM390 58.29h2v3.43h-2zM394 58.29h4v3.43h-4zM404 58.29h2v3.43h-2zM414 58.29h2v3.43h-2zM420 58.29h2v3.43h-2zM440 58.29h4v3.43h-4zM446 58.29h2v3.43h-2zM450 58.29h2v3.43h-2zM454 58.29h2v3.43h-2zM460 58.29h2v3.43h-2zM470 58.29h2v3.43h-2zM478 58.29h2v3.43h-2zM494 58.29h4v3.43h-4zM502 58.29h2v3.43h-2zM506 58.29h2v3.43h-2zM510 58.29h4v3.43h-4zM522 58.29h6v3.43h-6zM530 58.29h2v3.43h-2zM540 58.29h2v3.43h-2zM548 58.29h4v3.43h-4zM582 58.29h4v3.43h-4zM594 58.29h4v3.43h-4zM604 58.29h2v3.43h-2zM608 58.29h2v3.43h-2zM616 58.29h2v3.43h-2zM634 58.29h2v3.43h-2zM638 58.29h2v3.43h-2zM644 58.29h4v3.43h-4zM656 58.29h2v3.43h-2zM660 58.29h2v3.43h-2zM674 58.29h2v3.43h-2zM678 58.29h4v3.43h-4zM710 58.29h2v3.43h-2zM728 58.29h4v3.43h-4zM736 58.29h2v3.43h-2zM758 58.29h2v3.43h-2zM764 58.29h2v3.43h-2zM768 58.29h4v3.43h-4zM774 58.29h2v3.43h-2zM804 58.29h2v3.43h-2zM814 58.29h2v3.43h-2zM828 58.29h2v3.43h-2zM836 58.29h2v3.43h-2zM860 58.29h2v3.43h-2zM866 58.29h2v3.43h-2zM880 58.29h2v3.43h-2zM616 61.71h2v3.43h-2zM664 61.71h2v3.43h-2zM696 61.71h2v3.43h-2zM754 61.71h2v3.43h-2zM834 61.71h4v3.43h-4zM860 61.71h2v3.43h-2zM874 61.71h2v3.43h-2zM332 65.14h2v3.43h-2zM556 65.14h2v3.43h-2zM568 65.14h2v3.43h-2zM622 65.14h2v3.43h-2zM636 65.14h2v3.43h-2zM722 65.14h2v3.43h-2zM736 65.14h2v3.43h-2zM858 65.14h2v3.43h-2zM862 65.14h2v3.43h-2zM880 65.14h2v3.43h-2zM480 68.57h2v3.43h-2zM498 68.57h2v3.43h-2zM514 68.57h2v3.43h-2zM520 68.57h2v3.43h-2zM526 68.57h2v3.43h-2zM552 68.57h2v3.43h-2zM560 68.57h2v3.43h-2zM570 68.57h2v3.43h-2zM594 68.57h2v3.43h-2zM606 68.57h2v3.43h-2zM620 68.57h2v3.43h-2zM624 68.57h2v3.43h-2zM656 68.57h2v3.43h-2zM676 68.57h2v3.43h-2zM680 68.57h4v3.43h-4zM694 68.57h2v3.43h-2zM702 68.57h2v3.43h-2zM724 68.57h2v3.43h-2zM734 68.57h2v3.43h-2zM746 68.57h2v3.43h-2zM750 68.57h4v3.43h-4zM758 68.57h2v3.43h-2zM762 68.57h2v3.43h-2zM776 68.57h2v3.43h-2zM784 68.57h2v3.43h-2zM792 68.57h2v3.43h-2zM796 68.57h2v3.43h-2zM824 68.57h2v3.43h-2zM848 68.57h6v3.43h-6zM858 68.57h2v3.43h-2zM864 68.57h4v3.43h-4zM870 68.57h2v3.43h-2zM440 26.3h2v1.13h-2zM478 26.3h2v1.13h-2zM498 26.3h2v1.13h-2zM526 26.3h2v1.13h-2zM530 26.3h2v1.13h-2zM536 26.3h2v1.13h-2zM542 26.3h2v1.13h-2zM568 26.3h2v1.13h-2zM578 26.3h6v1.13h-6zM586 26.3h2v1.13h-2zM598 26.3h4v1.13h-4zM604 26.3h2v1.13h-2zM608 26.3h2v1.13h-2zM612 26.3h4v1.13h-4zM626 26.3h2v1.13h-2zM630 26.3h4v1.13h-4zM636 26.3h2v1.13h-2zM640 26.3h2v1.13h-2zM648 26.3h6v1.13h-6zM660 26.3h2v1.13h-2zM674 26.3h8v1.13h-8zM690 26.3h2v1.13h-2zM698 26.3h2v1.13h-2zM704 26.3h2v1.13h-2zM708 26.3h4v1.13h-4zM718 26.3h2v1.13h-2zM722 26.3h2v1.13h-2zM726 26.3h4v1.13h-4zM742 26.3h2v1.13h-2zM746 26.3h2v1.13h-2zM752 26.3h4v1.13h-4zM766 26.3h8v1.13h-8zM784 26.3h4v1.13h-4zM792 26.3h2v1.13h-2zM796 26.3h2v1.13h-2zM814 26.3h2v1.13h-2zM818 26.3h4v1.13h-4zM830 26.3h2v1.13h-2zM852 26.3h2v1.13h-2zM858 26.3h2v1.13h-2zM864 26.3h2v1.13h-2zM882 26.3h2v1.13h-2zM890 26.3h1v1.13h-1z"/><path fill="#b5d0d0" d="M72 27.43h2v3.43h-2zM518 27.43h2v3.43h-2zM600 27.43h2v3.43h-2zM604 27.43h2v3.43h-2zM612 27.43h2v3.43h-2zM870 27.43h2v3.43h-2zM674 30.86h2v3.43h-2zM888 30.86h2v3.43h-2zM796 34.29h2v3.43h-2zM860 34.29h4v3.43h-4zM868 34.29h6v3.43h-6zM884 34.29h2v3.43h-2zM888 34.29h2v3.43h-2zM74 37.71h4v3.43h-4zM88 37.71h2v3.43h-2zM94 37.71h2v3.43h-2zM720 37.71h2v3.43h-2zM778 37.71h2v3.43h-2zM880 37.71h2v3.43h-2zM76 41.14h2v3.43h-2zM80 41.14h2v3.43h-2zM136 41.14h2v3.43h-2zM154 41.14h2v3.43h-2zM160 41.14h2v3.43h-2zM164 41.14h2v3.43h-2zM182 41.14h2v3.43h-2zM186 41.14h2v3.43h-2zM200 41.14h2v3.43h-2zM216 41.14h2v3.43h-2zM222 41.14h4v3.43h-4zM228 41.14h2v3.43h-2zM236 41.14h6v3.43h-6zM250 41.14h2v3.43h-2zM258 41.14h2v3.43h-2zM264 41.14h4v3.43h-4zM272 41.14h2v3.43h-2zM278 41.14h6v3.43h-6zM292 41.14h4v3.43h-4zM298 41.14h2v3.43h-2zM314 41.14h4v3.43h-4zM320 41.14h2v3.43h-2zM330 41.14h2v3.43h-2zM336 41.14h2v3.43h-2zM344 41.14h4v3.43h-4zM354 41.14h2v3.43h-2zM358 41.14h10v3.43h-10zM380 41.14h4v3.43h-4zM386 41.14h2v3.43h-2zM390 41.14h2v3.43h-2zM396 41.14h2v3.43h-2zM418 41.14h2v3.43h-2zM422 41.14h2v3.43h-2zM428 41.14h4v3.43h-4zM434 41.14h4v3.43h-4zM450 41.14h4v3.43h-4zM462 41.14h4v3.43h-4zM474 41.14h4v3.43h-4zM484 41.14h2v3.43h-2zM508 41.14h2v3.43h-2zM522 41.14h2v3.43h-2zM530 41.14h4v3.43h-4zM546 41.14h4v3.43h-4zM560 41.14h2v3.43h-2zM566 41.14h2v3.43h-2zM574 41.14h2v3.43h-2zM592 41.14h2v3.43h-2zM598 41.14h2v3.43h-2zM604 41.14h2v3.43h-2zM608 41.14h2v3.43h-2zM628 41.14h6v3.43h-6zM644 41.14h2v3.43h-2zM652 41.14h2v3.43h-2zM658 41.14h2v3.43h-2zM664 41.14h2v3.43h-2zM672 41.14h2v3.43h-2zM676 41.14h2v3.43h-2zM680 41.14h2v3.43h-2zM688 41.14h2v3.43h-2zM698 41.14h2v3.43h-2zM718 41.14h2v3.43h-2zM728 41.14h4v3.43h-4zM734 41.14h2v3.43h-2zM740 41.14h2v3.43h-2zM756 41.14h2v3.43h-2zM786 41.14h2v3.43h-2zM798 41.14h2v3.43h-2zM802 41.14h4v3.43h-4zM810 41.14h2v3.43h-2zM820 41.14h2v3.43h-2zM830 41.14h2v3.43h-2zM842 41.14h2v3.43h-2zM846 41.14h2v3.43h-2zM868 41.14h2v3.43h-2zM882 41.14h2v3.43h-2zM104 44.57h2v3.43h-2zM110 44.57h2v3.43h-2zM114 44.57h2v3.43h-2zM140 44.57h2v3.43h-2zM148 44.57h2v3.43h-2zM524 44.57h2v3.43h-2zM576 44.57h4v3.43h-4zM602 44.57h4v3.43h-4zM616 44.57h2v3.43h-2zM622 44.57h2v3.43h-2zM640 44.57h2v3.43h-2zM648 44.57h2v3.43h-2zM660 44.57h4v3.43h-4zM672 44.57h2v3.43h-2zM682 44.57h8v3.43h-8zM696 44.57h2v3.43h-2zM704 44.57h4v3.43h-4zM716 44.57h4v3.43h-4zM738 44.57h4v3.43h-4zM756 44.57h4v3.43h-4zM764 44.57h2v3.43h-2zM784 44.57h2v3.43h-2zM796 44.57h2v3.43h-2zM814 44.57h4v3.43h-4zM834 44.57h6v3.43h-6zM862 44.57h2v3.43h-2zM876 44.57h2v3.43h-2zM112 48h2v3.43h-2zM530 48h2v3.43h-2zM596 48h2v3.43h-2zM616 48h2v3.43h-2zM622 48h2v3.43h-2zM632 48h2v3.43h-2zM660 48h2v3.43h-2zM702 48h2v3.43h-2zM722 48h2v3.43h-2zM752 48h2v3.43h-2zM832 48h2v3.43h-2zM868 48h2v3.43h-2zM878 48h2v3.43h-2zM622 51.43h2v3.43h-2zM636 51.43h2v3.43h-2zM640 51.43h2v3.43h-2zM692 51.43h2v3.43h-2zM774 51.43h2v3.43h-2zM818 51.43h4v3.43h-4zM834 51.43h2v3.43h-2zM846 51.43h2v3.43h-2zM866 51.43h2v3.43h-2zM874 51.43h2v3.43h-2zM134 54.86h2v3.43h-2zM154 54.86h4v3.43h-4zM182 54.86h2v3.43h-2zM200 54.86h2v3.43h-2zM204 54.86h2v3.43h-2zM264 54.86h2v3.43h-2zM268 54.86h2v3.43h-2zM336 54.86h2v3.43h-2zM342 54.86h2v3.43h-2zM350 54.86h2v3.43h-2zM354 54.86h2v3.43h-2zM370 54.86h2v3.43h-2zM392 54.86h2v3.43h-2zM398 54.86h2v3.43h-2zM402 54.86h2v3.43h-2zM406 54.86h2v3.43h-2zM422 54.86h2v3.43h-2zM448 54.86h2v3.43h-2zM454 54.86h2v3.43h-2zM458 54.86h2v3.43h-2zM482 54.86h2v3.43h-2zM496 54.86h2v3.43h-2zM508 54.86h2v3.43h-2zM512 54.86h2v3.43h-2zM524 54.86h6v3.43h-6zM538 54.86h2v3.43h-2zM582 54.86h2v3.43h-2zM592 54.86h2v3.43h-2zM604 54.86h8v3.43h-8zM618 54.86h4v3.43h-4zM626 54.86h2v3.43h-2zM638 54.86h6v3.43h-6zM652 54.86h2v3.43h-2zM666 54.86h2v3.43h-2zM670 54.86h2v3.43h-2zM678 54.86h4v3.43h-4zM700 54.86h2v3.43h-2zM704 54.86h2v3.43h-2zM712 54.86h2v3.43h-2zM718 54.86h2v3.43h-2zM722 54.86h2v3.43h-2zM726 54.86h2v3.43h-2zM730 54.86h2v3.43h-2zM738 54.86h2v3.43h-2zM774 54.86h2v3.43h-2zM792 54.86h2v3.43h-2zM798 54.86h2v3.43h-2zM802 54.86h6v3.43h-6zM810 54.86h2v3.43h-2zM846 54.86h2v3.43h-2zM852 54.86h2v3.43h-2zM862 54.86h2v3.43h-2zM874 54.86h2v3.43h-2zM890 54.86h1v3.43h-1zM104 58.29h2v3.43h-2zM216 58.29h2v3.43h-2zM256 58.29h2v3.43h-2zM438 58.29h2v3.43h-2zM444 58.29h2v3.43h-2zM452 58.29h2v3.43h-2zM458 58.29h2v3.43h-2zM486 58.29h2v3.43h-2zM514 58.29h2v3.43h-2zM552 58.29h2v3.43h-2zM564 58.29h2v3.43h-2zM572 58.29h2v3.43h-2zM590 58.29h2v3.43h-2zM640 58.29h2v3.43h-2zM662 58.29h2v3.43h-2zM686 58.29h2v3.43h-2zM708 58.29h2v3.43h-2zM734 58.29h2v3.43h-2zM756 58.29h2v3.43h-2zM780 58.29h2v3.43h-2zM790 58.29h4v3.43h-4zM820 58.29h2v3.43h-2zM858 58.29h2v3.43h-2zM886 58.29h2v3.43h-2zM94 61.71h2v3.43h-2zM862 61.71h2v3.43h-2zM870 61.71h4v3.43h-4zM880 61.71h2v3.43h-2zM886 61.71h2v3.43h-2zM112 65.14h2v3.43h-2zM860 65.14h2v3.43h-2zM888 65.14h2v3.43h-2zM564 68.57h2v3.43h-2zM592 68.57h2v3.43h-2zM632 68.57h2v3.43h-2zM648 68.57h2v3.43h-2zM672 68.57h2v3.43h-2zM728 68.57h2v3.43h-2zM736 68.57h2v3.43h-2zM774 68.57h2v3.43h-2zM790 68.57h2v3.43h-2zM800 68.57h2v3.43h-2zM806 68.57h2v3.43h-2zM810 68.57h2v3.43h-2zM872 68.57h2v3.43h-2zM880 68.57h2v3.43h-2zM344 26.3h2v1.13h-2zM550 26.3h2v1.13h-2zM588 26.3h2v1.13h-2zM592 26.3h2v1.13h-2zM596 26.3h2v1.13h-2zM622 26.3h2v1.13h-2zM638 26.3h2v1.13h-2zM642 26.3h4v1.13h-4zM684 26.3h2v1.13h-2zM694 26.3h2v1.13h-2zM700 26.3h2v1.13h-2zM706 26.3h2v1.13h-2zM712 26.3h2v1.13h-2zM730 26.3h2v1.13h-2zM736 26.3h2v1.13h-2zM740 26.3h2v1.13h-2zM744 26.3h2v1.13h-2zM756 26.3h2v1.13h-2zM800 26.3h2v1.13h-2zM808 26.3h2v1.13h-2zM812 26.3h2v1.13h-2zM834 26.3h2v1.13h-2zM846 26.3h2v1.13h-2zM870 26.3h2v1.13h-2zM878 26.3h2v1.13h-2zM884 26.3h2v1.13h-2z"/><path fill="#a9c8c8" d="M546 27.43h2v3.43h-2zM100 30.86h2v3.43h-2zM112 30.86h2v3.43h-2zM688 30.86h2v3.43h-2zM122 34.29h2v3.43h-2zM878 34.29h2v3.43h-2zM78 37.71h2v3.43h-2zM90 37.71h2v3.43h-2zM858 37.71h2v3.43h-2zM870 37.71h2v3.43h-2zM78 41.14h2v3.43h-2zM134 41.14h2v3.43h-2zM158 41.14h2v3.43h-2zM174 41.14h2v3.43h-2zM194 41.14h2v3.43h-2zM198 41.14h2v3.43h-2zM202 41.14h2v3.43h-2zM214 41.14h2v3.43h-2zM232 41.14h2v3.43h-2zM246 41.14h2v3.43h-2zM252 41.14h4v3.43h-4zM304 41.14h2v3.43h-2zM308 41.14h2v3.43h-2zM318 41.14h2v3.43h-2zM332 41.14h2v3.43h-2zM368 41.14h2v3.43h-2zM374 41.14h2v3.43h-2zM378 41.14h2v3.43h-2zM388 41.14h2v3.43h-2zM392 41.14h2v3.43h-2zM398 41.14h4v3.43h-4zM410 41.14h2v3.43h-2zM414 41.14h4v3.43h-4zM420 41.14h2v3.43h-2zM426 41.14h2v3.43h-2zM440 41.14h2v3.43h-2zM454 41.14h2v3.43h-2zM458 41.14h2v3.43h-2zM470 41.14h2v3.43h-2zM486 41.14h2v3.43h-2zM490 41.14h4v3.43h-4zM506 41.14h2v3.43h-2zM512 41.14h2v3.43h-2zM526 41.14h2v3.43h-2zM538 41.14h2v3.43h-2zM578 41.14h2v3.43h-2zM596 41.14h2v3.43h-2zM610 41.14h2v3.43h-2zM650 41.14h2v3.43h-2zM686 41.14h2v3.43h-2zM696 41.14h2v3.43h-2zM702 41.14h4v3.43h-4zM720 41.14h2v3.43h-2zM766 41.14h2v3.43h-2zM826 41.14h2v3.43h-2zM834 41.14h2v3.43h-2zM860 41.14h2v3.43h-2zM106 44.57h2v3.43h-2zM138 44.57h2v3.43h-2zM172 44.57h4v3.43h-4zM178 44.57h2v3.43h-2zM194 44.57h2v3.43h-2zM198 44.57h4v3.43h-4zM306 44.57h2v3.43h-2zM312 44.57h2v3.43h-2zM332 44.57h4v3.43h-4zM342 44.57h2v3.43h-2zM362 44.57h2v3.43h-2zM394 44.57h4v3.43h-4zM404 44.57h4v3.43h-4zM410 44.57h2v3.43h-2zM416 44.57h2v3.43h-2zM428 44.57h2v3.43h-2zM436 44.57h2v3.43h-2zM448 44.57h2v3.43h-2zM462 44.57h6v3.43h-6zM482 44.57h2v3.43h-2zM504 44.57h4v3.43h-4zM510 44.57h2v3.43h-2zM514 44.57h4v3.43h-4zM528 44.57h6v3.43h-6zM546 44.57h2v3.43h-2zM552 44.57h4v3.43h-4zM558 44.57h10v3.43h-10zM580 44.57h2v3.43h-2zM584 44.57h4v3.43h-4zM594 44.57h2v3.43h-2zM614 44.57h2v3.43h-2zM618 44.57h2v3.43h-2zM624 44.57h6v3.43h-6zM632 44.57h2v3.43h-2zM636 44.57h4v3.43h-4zM652 44.57h2v3.43h-2zM664 44.57h2v3.43h-2zM668 44.57h2v3.43h-2zM674 44.57h2v3.43h-2zM678 44.57h4v3.43h-4zM692 44.57h2v3.43h-2zM700 44.57h2v3.43h-2zM710 44.57h2v3.43h-2zM714 44.57h2v3.43h-2zM720 44.57h14v3.43h-14zM736 44.57h2v3.43h-2zM746 44.57h2v3.43h-2zM750 44.57h6v3.43h-6zM768 44.57h4v3.43h-4zM774 44.57h2v3.43h-2zM780 44.57h2v3.43h-2zM790 44.57h6v3.43h-6zM804 44.57h4v3.43h-4zM810 44.57h4v3.43h-4zM820 44.57h2v3.43h-2zM828 44.57h2v3.43h-2zM842 44.57h4v3.43h-4zM864 44.57h8v3.43h-8zM888 44.57h2v3.43h-2zM124 48h2v3.43h-2zM548 48h2v3.43h-2zM554 48h2v3.43h-2zM560 48h2v3.43h-2zM568 48h2v3.43h-2zM590 48h2v3.43h-2zM600 48h2v3.43h-2zM610 48h2v3.43h-2zM624 48h2v3.43h-2zM636 48h2v3.43h-2zM642 48h4v3.43h-4zM648 48h2v3.43h-2zM654 48h2v3.43h-2zM658 48h2v3.43h-2zM664 48h2v3.43h-2zM668 48h2v3.43h-2zM674 48h2v3.43h-2zM706 48h2v3.43h-2zM710 48h2v3.43h-2zM732 48h2v3.43h-2zM754 48h12v3.43h-12zM770 48h2v3.43h-2zM778 48h4v3.43h-4zM790 48h4v3.43h-4zM802 48h4v3.43h-4zM808 48h2v3.43h-2zM816 48h2v3.43h-2zM820 48h2v3.43h-2zM834 48h2v3.43h-2zM838 48h4v3.43h-4zM884 48h4v3.43h-4zM532 51.43h2v3.43h-2zM572 51.43h2v3.43h-2zM588 51.43h2v3.43h-2zM606 51.43h4v3.43h-4zM628 51.43h2v3.43h-2zM634 51.43h2v3.43h-2zM642 51.43h6v3.43h-6zM656 51.43h2v3.43h-2zM662 51.43h2v3.43h-2zM668 51.43h2v3.43h-2zM676 51.43h4v3.43h-4zM684 51.43h2v3.43h-2zM694 51.43h2v3.43h-2zM710 51.43h2v3.43h-2zM714 51.43h8v3.43h-8zM726 51.43h2v3.43h-2zM740 51.43h4v3.43h-4zM756 51.43h2v3.43h-2zM760 51.43h2v3.43h-2zM764 51.43h2v3.43h-2zM768 51.43h2v3.43h-2zM784 51.43h2v3.43h-2zM822 51.43h4v3.43h-4zM854 51.43h2v3.43h-2zM870 51.43h2v3.43h-2zM114 54.86h2v3.43h-2zM118 54.86h2v3.43h-2zM130 54.86h2v3.43h-2zM150 54.86h4v3.43h-4zM160 54.86h2v3.43h-2zM166 54.86h8v3.43h-8zM178 54.86h2v3.43h-2zM184 54.86h2v3.43h-2zM190 54.86h2v3.43h-2zM210 54.86h2v3.43h-2zM214 54.86h4v3.43h-4zM280 54.86h2v3.43h-2zM284 54.86h2v3.43h-2zM306 54.86h2v3.43h-2zM316 54.86h2v3.43h-2zM346 54.86h2v3.43h-2zM368 54.86h2v3.43h-2zM372 54.86h2v3.43h-2zM380 54.86h6v3.43h-6zM390 54.86h2v3.43h-2zM408 54.86h2v3.43h-2zM418 54.86h4v3.43h-4zM428 54.86h2v3.43h-2zM434 54.86h2v3.43h-2zM438 54.86h2v3.43h-2zM462 54.86h2v3.43h-2zM472 54.86h4v3.43h-4zM488 54.86h4v3.43h-4zM494 54.86h2v3.43h-2zM498 54.86h2v3.43h-2zM504 54.86h4v3.43h-4zM522 54.86h2v3.43h-2zM532 54.86h6v3.43h-6zM554 54.86h2v3.43h-2zM562 54.86h2v3.43h-2zM568 54.86h6v3.43h-6zM576 54.86h2v3.43h-2zM586 54.86h2v3.43h-2zM596 54.86h2v3.43h-2zM612 54.86h4v3.43h-4zM632 54.86h2v3.43h-2zM636 54.86h2v3.43h-2zM644 54.86h4v3.43h-4zM658 54.86h4v3.43h-4zM668 54.86h2v3.43h-2zM682 54.86h2v3.43h-2zM686 54.86h4v3.43h-4zM692 54.86h4v3.43h-4zM702 54.86h2v3.43h-2zM708 54.86h2v3.43h-2zM714 54.86h4v3.43h-4zM720 54.86h2v3.43h-2zM728 54.86h2v3.43h-2zM732 54.86h2v3.43h-2zM736 54.86h2v3.43h-2zM744 54.86h2v3.43h-2zM752 54.86h6v3.43h-6zM760 54.86h8v3.43h-8zM770 54.86h4v3.43h-4zM778 54.86h4v3.43h-4zM784 54.86h4v3.43h-4zM794 54.86h2v3.43h-2zM808 54.86h2v3.43h-2zM812 54.86h4v3.43h-4zM822 54.86h2v3.43h-2zM828 54.86h2v3.43h-2zM836 54.86h4v3.43h-4zM844 54.86h2v3.43h-2zM878 54.86h4v3.43h-4zM146 58.29h2v3.43h-2zM234 58.29h2v3.43h-2zM328 58.29h2v3.43h-2zM556 58.29h2v3.43h-2zM588 58.29h2v3.43h-2zM842 58.29h2v3.43h-2zM92 61.71h2v3.43h-2zM118 68.57h2v3.43h-2zM710 68.57h2v3.43h-2zM868 68.57h2v3.43h-2zM886 68.57h2v3.43h-2zM602 26.3h2v1.13h-2zM628 26.3h2v1.13h-2zM658 26.3h2v1.13h-2zM720 26.3h2v1.13h-2zM748 26.3h2v1.13h-2zM804 26.3h2v1.13h-2zM842 26.3h2v1.13h-2zM862 26.3h2v1.13h-2zM872 26.3h4v1.13h-4z"/><path fill="#9fbcbf" d="M120 30.86h2v3.43h-2zM872 30.86h2v3.43h-2zM890 37.71h1v3.43h-1zM100 41.14h2v3.43h-2zM110 41.14h2v3.43h-2zM118 41.14h8v3.43h-8zM188 41.14h2v3.43h-2zM204 41.14h2v3.43h-2zM218 41.14h4v3.43h-4zM230 41.14h2v3.43h-2zM242 41.14h4v3.43h-4zM248 41.14h2v3.43h-2zM290 41.14h2v3.43h-2zM302 41.14h2v3.43h-2zM326 41.14h2v3.43h-2zM376 41.14h2v3.43h-2zM432 41.14h2v3.43h-2zM456 41.14h2v3.43h-2zM468 41.14h2v3.43h-2zM488 41.14h2v3.43h-2zM550 41.14h2v3.43h-2zM558 41.14h2v3.43h-2zM562 41.14h2v3.43h-2zM602 41.14h2v3.43h-2zM726 41.14h2v3.43h-2zM858 41.14h2v3.43h-2zM862 41.14h2v3.43h-2zM874 41.14h2v3.43h-2zM116 44.57h2v3.43h-2zM126 44.57h2v3.43h-2zM134 44.57h2v3.43h-2zM152 44.57h2v3.43h-2zM186 44.57h6v3.43h-6zM202 44.57h4v3.43h-4zM224 44.57h2v3.43h-2zM272 44.57h2v3.43h-2zM298 44.57h2v3.43h-2zM328 44.57h2v3.43h-2zM346 44.57h2v3.43h-2zM352 44.57h2v3.43h-2zM356 44.57h2v3.43h-2zM368 44.57h2v3.43h-2zM376 44.57h2v3.43h-2zM380 44.57h2v3.43h-2zM386 44.57h4v3.43h-4zM398 44.57h6v3.43h-6zM408 44.57h2v3.43h-2zM412 44.57h4v3.43h-4zM422 44.57h2v3.43h-2zM426 44.57h2v3.43h-2zM430 44.57h4v3.43h-4zM438 44.57h4v3.43h-4zM444 44.57h4v3.43h-4zM454 44.57h2v3.43h-2zM458 44.57h2v3.43h-2zM476 44.57h6v3.43h-6zM486 44.57h2v3.43h-2zM508 44.57h2v3.43h-2zM518 44.57h6v3.43h-6zM534 44.57h4v3.43h-4zM542 44.57h2v3.43h-2zM548 44.57h2v3.43h-2zM556 44.57h2v3.43h-2zM572 44.57h2v3.43h-2zM582 44.57h2v3.43h-2zM592 44.57h2v3.43h-2zM596 44.57h6v3.43h-6zM608 44.57h2v3.43h-2zM612 44.57h2v3.43h-2zM620 44.57h2v3.43h-2zM634 44.57h2v3.43h-2zM642 44.57h2v3.43h-2zM646 44.57h2v3.43h-2zM650 44.57h2v3.43h-2zM654 44.57h6v3.43h-6zM666 44.57h2v3.43h-2zM670 44.57h2v3.43h-2zM690 44.57h2v3.43h-2zM694 44.57h2v3.43h-2zM702 44.57h2v3.43h-2zM708 44.57h2v3.43h-2zM744 44.57h2v3.43h-2zM748 44.57h2v3.43h-2zM762 44.57h2v3.43h-2zM786 44.57h2v3.43h-2zM800 44.57h4v3.43h-4zM808 44.57h2v3.43h-2zM824 44.57h4v3.43h-4zM830 44.57h4v3.43h-4zM840 44.57h2v3.43h-2zM846 44.57h2v3.43h-2zM850 44.57h2v3.43h-2zM872 44.57h2v3.43h-2zM886 44.57h2v3.43h-2zM890 44.57h1v3.43h-1zM144 48h2v3.43h-2zM490 48h4v3.43h-4zM498 48h2v3.43h-2zM506 48h4v3.43h-4zM512 48h2v3.43h-2zM526 48h4v3.43h-4zM544 48h2v3.43h-2zM550 48h2v3.43h-2zM562 48h4v3.43h-4zM572 48h2v3.43h-2zM576 48h2v3.43h-2zM586 48h4v3.43h-4zM592 48h2v3.43h-2zM606 48h4v3.43h-4zM612 48h4v3.43h-4zM620 48h2v3.43h-2zM626 48h2v3.43h-2zM638 48h2v3.43h-2zM652 48h2v3.43h-2zM666 48h2v3.43h-2zM670 48h2v3.43h-2zM676 48h2v3.43h-2zM680 48h4v3.43h-4zM688 48h4v3.43h-4zM698 48h4v3.43h-4zM704 48h2v3.43h-2zM708 48h2v3.43h-2zM712 48h2v3.43h-2zM718 48h2v3.43h-2zM724 48h2v3.43h-2zM728 48h4v3.43h-4zM734 48h6v3.43h-6zM742 48h2v3.43h-2zM746 48h2v3.43h-2zM766 48h4v3.43h-4zM774 48h2v3.43h-2zM782 48h6v3.43h-6zM794 48h2v3.43h-2zM800 48h2v3.43h-2zM806 48h2v3.43h-2zM812 48h2v3.43h-2zM818 48h2v3.43h-2zM824 48h6v3.43h-6zM846 48h4v3.43h-4zM882 48h2v3.43h-2zM498 51.43h2v3.43h-2zM510 51.43h2v3.43h-2zM558 51.43h2v3.43h-2zM564 51.43h2v3.43h-2zM582 51.43h2v3.43h-2zM596 51.43h2v3.43h-2zM604 51.43h2v3.43h-2zM614 51.43h2v3.43h-2zM626 51.43h2v3.43h-2zM638 51.43h2v3.43h-2zM648 51.43h2v3.43h-2zM654 51.43h2v3.43h-2zM658 51.43h2v3.43h-2zM664 51.43h2v3.43h-2zM672 51.43h4v3.43h-4zM686 51.43h2v3.43h-2zM690 51.43h2v3.43h-2zM696 51.43h6v3.43h-6zM704 51.43h4v3.43h-4zM724 51.43h2v3.43h-2zM728 51.43h2v3.43h-2zM732 51.43h2v3.43h-2zM736 51.43h2v3.43h-2zM744 51.43h2v3.43h-2zM750 51.43h6v3.43h-6zM758 51.43h2v3.43h-2zM766 51.43h2v3.43h-2zM776 51.43h2v3.43h-2zM780 51.43h4v3.43h-4zM786 51.43h2v3.43h-2zM790 51.43h2v3.43h-2zM794 51.43h8v3.43h-8zM806 51.43h4v3.43h-4zM814 51.43h2v3.43h-2zM828 51.43h2v3.43h-2zM868 51.43h2v3.43h-2zM880 51.43h2v3.43h-2zM888 51.43h2v3.43h-2zM122 54.86h2v3.43h-2zM176 54.86h2v3.43h-2zM194 54.86h4v3.43h-4zM220 54.86h4v3.43h-4zM230 54.86h2v3.43h-2zM234 54.86h2v3.43h-2zM250 54.86h4v3.43h-4zM256 54.86h2v3.43h-2zM260 54.86h2v3.43h-2zM270 54.86h2v3.43h-2zM286 54.86h6v3.43h-6zM294 54.86h4v3.43h-4zM300 54.86h2v3.43h-2zM304 54.86h2v3.43h-2zM308 54.86h2v3.43h-2zM312 54.86h2v3.43h-2zM324 54.86h4v3.43h-4zM332 54.86h4v3.43h-4zM338 54.86h4v3.43h-4zM358 54.86h6v3.43h-6zM366 54.86h2v3.43h-2zM378 54.86h2v3.43h-2zM386 54.86h2v3.43h-2zM410 54.86h2v3.43h-2zM426 54.86h2v3.43h-2zM432 54.86h2v3.43h-2zM444 54.86h2v3.43h-2zM476 54.86h4v3.43h-4zM484 54.86h2v3.43h-2zM492 54.86h2v3.43h-2zM500 54.86h2v3.43h-2zM510 54.86h2v3.43h-2zM520 54.86h2v3.43h-2zM540 54.86h4v3.43h-4zM546 54.86h2v3.43h-2zM550 54.86h2v3.43h-2zM558 54.86h2v3.43h-2zM574 54.86h2v3.43h-2zM580 54.86h2v3.43h-2zM588 54.86h4v3.43h-4zM600 54.86h2v3.43h-2zM616 54.86h2v3.43h-2zM622 54.86h2v3.43h-2zM628 54.86h2v3.43h-2zM634 54.86h2v3.43h-2zM648 54.86h4v3.43h-4zM654 54.86h4v3.43h-4zM662 54.86h2v3.43h-2zM672 54.86h6v3.43h-6zM696 54.86h2v3.43h-2zM706 54.86h2v3.43h-2zM710 54.86h2v3.43h-2zM724 54.86h2v3.43h-2zM740 54.86h2v3.43h-2zM746 54.86h2v3.43h-2zM750 54.86h2v3.43h-2zM758 54.86h2v3.43h-2zM776 54.86h2v3.43h-2zM782 54.86h2v3.43h-2zM788 54.86h2v3.43h-2zM796 54.86h2v3.43h-2zM800 54.86h2v3.43h-2zM824 54.86h2v3.43h-2zM830 54.86h6v3.43h-6zM840 54.86h2v3.43h-2zM868 54.86h2v3.43h-2zM876 54.86h2v3.43h-2zM428 58.29h2v3.43h-2zM854 58.29h2v3.43h-2zM864 58.29h2v3.43h-2zM874 68.57h2v3.43h-2zM890 68.57h1v3.43h-1zM574 26.3h2v1.13h-2z"/><path fill="#97b2b7" d="M148 34.29h2v3.43h-2zM874 37.71h2v3.43h-2zM102 41.14h2v3.43h-2zM106 41.14h2v3.43h-2zM130 41.14h2v3.43h-2zM144 41.14h2v3.43h-2zM870 41.14h2v3.43h-2zM888 41.14h2v3.43h-2zM108 44.57h2v3.43h-2zM142 44.57h6v3.43h-6zM158 44.57h12v3.43h-12zM182 44.57h2v3.43h-2zM196 44.57h2v3.43h-2zM208 44.57h2v3.43h-2zM214 44.57h2v3.43h-2zM240 44.57h2v3.43h-2zM270 44.57h2v3.43h-2zM278 44.57h2v3.43h-2zM284 44.57h6v3.43h-6zM304 44.57h2v3.43h-2zM324 44.57h2v3.43h-2zM340 44.57h2v3.43h-2zM344 44.57h2v3.43h-2zM350 44.57h2v3.43h-2zM354 44.57h2v3.43h-2zM360 44.57h2v3.43h-2zM364 44.57h4v3.43h-4zM370 44.57h2v3.43h-2zM374 44.57h2v3.43h-2zM382 44.57h4v3.43h-4zM390 44.57h4v3.43h-4zM434 44.57h2v3.43h-2zM450 44.57h2v3.43h-2zM460 44.57h2v3.43h-2zM474 44.57h2v3.43h-2zM484 44.57h2v3.43h-2zM494 44.57h4v3.43h-4zM500 44.57h4v3.43h-4zM526 44.57h2v3.43h-2zM550 44.57h2v3.43h-2zM574 44.57h2v3.43h-2zM588 44.57h4v3.43h-4zM606 44.57h2v3.43h-2zM610 44.57h2v3.43h-2zM676 44.57h2v3.43h-2zM712 44.57h2v3.43h-2zM734 44.57h2v3.43h-2zM778 44.57h2v3.43h-2zM822 44.57h2v3.43h-2zM852 44.57h2v3.43h-2zM856 44.57h2v3.43h-2zM874 44.57h2v3.43h-2zM104 48h4v3.43h-4zM126 48h2v3.43h-2zM360 48h2v3.43h-2zM372 48h2v3.43h-2zM384 48h2v3.43h-2zM466 48h2v3.43h-2zM476 48h4v3.43h-4zM484 48h2v3.43h-2zM488 48h2v3.43h-2zM518 48h6v3.43h-6zM532 48h4v3.43h-4zM538 48h6v3.43h-6zM552 48h2v3.43h-2zM558 48h2v3.43h-2zM566 48h2v3.43h-2zM570 48h2v3.43h-2zM574 48h2v3.43h-2zM580 48h2v3.43h-2zM584 48h2v3.43h-2zM598 48h2v3.43h-2zM618 48h2v3.43h-2zM628 48h4v3.43h-4zM634 48h2v3.43h-2zM640 48h2v3.43h-2zM646 48h2v3.43h-2zM656 48h2v3.43h-2zM662 48h2v3.43h-2zM672 48h2v3.43h-2zM678 48h2v3.43h-2zM684 48h4v3.43h-4zM694 48h4v3.43h-4zM714 48h4v3.43h-4zM720 48h2v3.43h-2zM740 48h2v3.43h-2zM744 48h2v3.43h-2zM748 48h4v3.43h-4zM772 48h2v3.43h-2zM776 48h2v3.43h-2zM796 48h4v3.43h-4zM810 48h2v3.43h-2zM814 48h2v3.43h-2zM822 48h2v3.43h-2zM836 48h2v3.43h-2zM858 48h2v3.43h-2zM866 48h2v3.43h-2zM108 51.43h2v3.43h-2zM480 51.43h2v3.43h-2zM492 51.43h2v3.43h-2zM504 51.43h2v3.43h-2zM538 51.43h2v3.43h-2zM542 51.43h4v3.43h-4zM556 51.43h2v3.43h-2zM560 51.43h4v3.43h-4zM568 51.43h4v3.43h-4zM574 51.43h6v3.43h-6zM586 51.43h2v3.43h-2zM592 51.43h2v3.43h-2zM612 51.43h2v3.43h-2zM616 51.43h6v3.43h-6zM630 51.43h4v3.43h-4zM660 51.43h2v3.43h-2zM666 51.43h2v3.43h-2zM670 51.43h2v3.43h-2zM680 51.43h4v3.43h-4zM702 51.43h2v3.43h-2zM708 51.43h2v3.43h-2zM712 51.43h2v3.43h-2zM722 51.43h2v3.43h-2zM738 51.43h2v3.43h-2zM746 51.43h4v3.43h-4zM762 51.43h2v3.43h-2zM770 51.43h4v3.43h-4zM778 51.43h2v3.43h-2zM788 51.43h2v3.43h-2zM792 51.43h2v3.43h-2zM802 51.43h4v3.43h-4zM810 51.43h4v3.43h-4zM816 51.43h2v3.43h-2zM832 51.43h2v3.43h-2zM838 51.43h8v3.43h-8zM852 51.43h2v3.43h-2zM886 51.43h2v3.43h-2zM104 54.86h2v3.43h-2zM132 54.86h2v3.43h-2zM138 54.86h2v3.43h-2zM164 54.86h2v3.43h-2zM174 54.86h2v3.43h-2zM180 54.86h2v3.43h-2zM198 54.86h2v3.43h-2zM208 54.86h2v3.43h-2zM224 54.86h2v3.43h-2zM228 54.86h2v3.43h-2zM244 54.86h2v3.43h-2zM258 54.86h2v3.43h-2zM266 54.86h2v3.43h-2zM274 54.86h6v3.43h-6zM282 54.86h2v3.43h-2zM292 54.86h2v3.43h-2zM302 54.86h2v3.43h-2zM310 54.86h2v3.43h-2zM318 54.86h2v3.43h-2zM328 54.86h4v3.43h-4zM344 54.86h2v3.43h-2zM348 54.86h2v3.43h-2zM352 54.86h2v3.43h-2zM356 54.86h2v3.43h-2zM374 54.86h4v3.43h-4zM388 54.86h2v3.43h-2zM414 54.86h2v3.43h-2zM430 54.86h2v3.43h-2zM436 54.86h2v3.43h-2zM442 54.86h2v3.43h-2zM446 54.86h2v3.43h-2zM452 54.86h2v3.43h-2zM466 54.86h4v3.43h-4zM480 54.86h2v3.43h-2zM486 54.86h2v3.43h-2zM502 54.86h2v3.43h-2zM514 54.86h2v3.43h-2zM530 54.86h2v3.43h-2zM548 54.86h2v3.43h-2zM556 54.86h2v3.43h-2zM578 54.86h2v3.43h-2zM584 54.86h2v3.43h-2zM594 54.86h2v3.43h-2zM684 54.86h2v3.43h-2zM698 54.86h2v3.43h-2zM790 54.86h2v3.43h-2zM816 54.86h6v3.43h-6zM826 54.86h2v3.43h-2zM842 54.86h2v3.43h-2zM848 54.86h2v3.43h-2zM860 54.86h2v3.43h-2zM850 58.29h2v3.43h-2zM882 58.29h2v3.43h-2zM882 65.14h2v3.43h-2zM860 26.3h2v1.13h-2zM876 26.3h2v1.13h-2z"/><path fill="#8fa7af" d="M144 30.86h2v3.43h-2zM138 41.14h2v3.43h-2zM850 41.14h2v3.43h-2zM884 41.14h2v3.43h-2zM120 44.57h2v3.43h-2zM154 44.57h4v3.43h-4zM170 44.57h2v3.43h-2zM176 44.57h2v3.43h-2zM180 44.57h2v3.43h-2zM184 44.57h2v3.43h-2zM192 44.57h2v3.43h-2zM210 44.57h2v3.43h-2zM216 44.57h2v3.43h-2zM228 44.57h2v3.43h-2zM236 44.57h2v3.43h-2zM244 44.57h2v3.43h-2zM252 44.57h4v3.43h-4zM258 44.57h10v3.43h-10zM276 44.57h2v3.43h-2zM292 44.57h4v3.43h-4zM302 44.57h2v3.43h-2zM314 44.57h10v3.43h-10zM330 44.57h2v3.43h-2zM336 44.57h4v3.43h-4zM348 44.57h2v3.43h-2zM358 44.57h2v3.43h-2zM372 44.57h2v3.43h-2zM378 44.57h2v3.43h-2zM424 44.57h2v3.43h-2zM442 44.57h2v3.43h-2zM452 44.57h2v3.43h-2zM456 44.57h2v3.43h-2zM470 44.57h2v3.43h-2zM488 44.57h6v3.43h-6zM498 44.57h2v3.43h-2zM538 44.57h2v3.43h-2zM570 44.57h2v3.43h-2zM644 44.57h2v3.43h-2zM878 44.57h4v3.43h-4zM884 44.57h2v3.43h-2zM150 48h2v3.43h-2zM154 48h2v3.43h-2zM160 48h4v3.43h-4zM176 48h2v3.43h-2zM196 48h4v3.43h-4zM362 48h2v3.43h-2zM374 48h4v3.43h-4zM392 48h4v3.43h-4zM398 48h2v3.43h-2zM418 48h6v3.43h-6zM428 48h2v3.43h-2zM446 48h2v3.43h-2zM454 48h10v3.43h-10zM468 48h2v3.43h-2zM480 48h2v3.43h-2zM496 48h2v3.43h-2zM500 48h4v3.43h-4zM510 48h2v3.43h-2zM514 48h4v3.43h-4zM524 48h2v3.43h-2zM546 48h2v3.43h-2zM578 48h2v3.43h-2zM582 48h2v3.43h-2zM594 48h2v3.43h-2zM602 48h4v3.43h-4zM650 48h2v3.43h-2zM726 48h2v3.43h-2zM788 48h2v3.43h-2zM830 48h2v3.43h-2zM842 48h2v3.43h-2zM890 48h1v3.43h-1zM110 51.43h2v3.43h-2zM114 51.43h2v3.43h-2zM124 51.43h2v3.43h-2zM140 51.43h2v3.43h-2zM418 51.43h2v3.43h-2zM490 51.43h2v3.43h-2zM502 51.43h2v3.43h-2zM518 51.43h2v3.43h-2zM522 51.43h2v3.43h-2zM536 51.43h2v3.43h-2zM546 51.43h4v3.43h-4zM554 51.43h2v3.43h-2zM584 51.43h2v3.43h-2zM590 51.43h2v3.43h-2zM594 51.43h2v3.43h-2zM602 51.43h2v3.43h-2zM624 51.43h2v3.43h-2zM650 51.43h4v3.43h-4zM688 51.43h2v3.43h-2zM730 51.43h2v3.43h-2zM734 51.43h2v3.43h-2zM826 51.43h2v3.43h-2zM830 51.43h2v3.43h-2zM836 51.43h2v3.43h-2zM124 54.86h2v3.43h-2zM202 54.86h2v3.43h-2zM206 54.86h2v3.43h-2zM218 54.86h2v3.43h-2zM226 54.86h2v3.43h-2zM232 54.86h2v3.43h-2zM240 54.86h4v3.43h-4zM254 54.86h2v3.43h-2zM272 54.86h2v3.43h-2zM298 54.86h2v3.43h-2zM320 54.86h4v3.43h-4zM364 54.86h2v3.43h-2zM394 54.86h2v3.43h-2zM400 54.86h2v3.43h-2zM416 54.86h2v3.43h-2zM450 54.86h2v3.43h-2zM456 54.86h2v3.43h-2zM460 54.86h2v3.43h-2zM464 54.86h2v3.43h-2zM470 54.86h2v3.43h-2zM516 54.86h2v3.43h-2zM552 54.86h2v3.43h-2zM856 54.86h2v3.43h-2zM884 54.86h4v3.43h-4zM126 58.29h2v3.43h-2zM142 61.71h2v3.43h-2zM104 65.14h2v3.43h-2zM866 26.3h4v1.13h-4zM886 26.3h2v1.13h-2z"/><path fill="#889ca7" d="M126 34.29h2v3.43h-2zM112 37.71h2v3.43h-2zM128 37.71h2v3.43h-2zM82 41.14h2v3.43h-2zM856 41.14h2v3.43h-2zM70 44.57h2v3.43h-2zM118 44.57h2v3.43h-2zM124 44.57h2v3.43h-2zM132 44.57h2v3.43h-2zM150 44.57h2v3.43h-2zM206 44.57h2v3.43h-2zM212 44.57h2v3.43h-2zM218 44.57h2v3.43h-2zM230 44.57h6v3.43h-6zM242 44.57h2v3.43h-2zM256 44.57h2v3.43h-2zM268 44.57h2v3.43h-2zM274 44.57h2v3.43h-2zM290 44.57h2v3.43h-2zM296 44.57h2v3.43h-2zM300 44.57h2v3.43h-2zM308 44.57h2v3.43h-2zM326 44.57h2v3.43h-2zM418 44.57h2v3.43h-2zM468 44.57h2v3.43h-2zM472 44.57h2v3.43h-2zM858 44.57h2v3.43h-2zM80 48h2v3.43h-2zM114 48h2v3.43h-2zM134 48h2v3.43h-2zM140 48h2v3.43h-2zM146 48h4v3.43h-4zM156 48h4v3.43h-4zM166 48h6v3.43h-6zM174 48h2v3.43h-2zM188 48h2v3.43h-2zM192 48h2v3.43h-2zM272 48h2v3.43h-2zM334 48h2v3.43h-2zM342 48h2v3.43h-2zM364 48h2v3.43h-2zM368 48h2v3.43h-2zM378 48h2v3.43h-2zM388 48h4v3.43h-4zM396 48h2v3.43h-2zM400 48h2v3.43h-2zM412 48h2v3.43h-2zM416 48h2v3.43h-2zM430 48h6v3.43h-6zM438 48h2v3.43h-2zM444 48h2v3.43h-2zM448 48h2v3.43h-2zM470 48h2v3.43h-2zM474 48h2v3.43h-2zM482 48h2v3.43h-2zM486 48h2v3.43h-2zM494 48h2v3.43h-2zM504 48h2v3.43h-2zM556 48h2v3.43h-2zM692 48h2v3.43h-2zM852 48h2v3.43h-2zM870 48h4v3.43h-4zM112 51.43h2v3.43h-2zM116 51.43h2v3.43h-2zM120 51.43h2v3.43h-2zM126 51.43h2v3.43h-2zM404 51.43h2v3.43h-2zM444 51.43h2v3.43h-2zM450 51.43h2v3.43h-2zM456 51.43h4v3.43h-4zM472 51.43h2v3.43h-2zM482 51.43h6v3.43h-6zM494 51.43h2v3.43h-2zM512 51.43h6v3.43h-6zM524 51.43h2v3.43h-2zM534 51.43h2v3.43h-2zM550 51.43h4v3.43h-4zM566 51.43h2v3.43h-2zM580 51.43h2v3.43h-2zM598 51.43h4v3.43h-4zM610 51.43h2v3.43h-2zM848 51.43h4v3.43h-4zM856 51.43h2v3.43h-2zM860 51.43h2v3.43h-2zM864 51.43h2v3.43h-2zM882 51.43h4v3.43h-4zM74 54.86h2v3.43h-2zM144 54.86h2v3.43h-2zM236 54.86h4v3.43h-4zM248 54.86h2v3.43h-2zM262 54.86h2v3.43h-2zM412 54.86h2v3.43h-2zM424 54.86h2v3.43h-2zM518 54.86h2v3.43h-2zM854 54.86h2v3.43h-2z"/><path fill="#8091a0" d="M132 41.14h2v3.43h-2zM80 44.57h2v3.43h-2zM130 44.57h2v3.43h-2zM220 44.57h4v3.43h-4zM226 44.57h2v3.43h-2zM238 44.57h2v3.43h-2zM246 44.57h6v3.43h-6zM280 44.57h2v3.43h-2zM310 44.57h2v3.43h-2zM854 44.57h2v3.43h-2zM78 48h2v3.43h-2zM108 48h2v3.43h-2zM116 48h2v3.43h-2zM132 48h2v3.43h-2zM138 48h2v3.43h-2zM152 48h2v3.43h-2zM172 48h2v3.43h-2zM178 48h2v3.43h-2zM182 48h4v3.43h-4zM194 48h2v3.43h-2zM206 48h2v3.43h-2zM214 48h2v3.43h-2zM306 48h2v3.43h-2zM310 48h2v3.43h-2zM314 48h4v3.43h-4zM326 48h2v3.43h-2zM338 48h2v3.43h-2zM344 48h6v3.43h-6zM354 48h4v3.43h-4zM370 48h2v3.43h-2zM380 48h4v3.43h-4zM402 48h10v3.43h-10zM424 48h4v3.43h-4zM436 48h2v3.43h-2zM442 48h2v3.43h-2zM450 48h4v3.43h-4zM472 48h2v3.43h-2zM536 48h2v3.43h-2zM860 48h2v3.43h-2zM874 48h2v3.43h-2zM888 48h2v3.43h-2zM78 51.43h6v3.43h-6zM90 51.43h10v3.43h-10zM102 51.43h2v3.43h-2zM142 51.43h2v3.43h-2zM150 51.43h2v3.43h-2zM376 51.43h2v3.43h-2zM380 51.43h2v3.43h-2zM398 51.43h2v3.43h-2zM434 51.43h4v3.43h-4zM440 51.43h4v3.43h-4zM446 51.43h2v3.43h-2zM454 51.43h2v3.43h-2zM460 51.43h4v3.43h-4zM466 51.43h4v3.43h-4zM474 51.43h2v3.43h-2zM478 51.43h2v3.43h-2zM496 51.43h2v3.43h-2zM506 51.43h4v3.43h-4zM520 51.43h2v3.43h-2zM528 51.43h2v3.43h-2zM540 51.43h2v3.43h-2zM858 51.43h2v3.43h-2zM862 51.43h2v3.43h-2zM106 54.86h2v3.43h-2zM76 65.14h2v3.43h-2z"/><path fill="#788698" d="M78 44.57h2v3.43h-2zM100 44.57h2v3.43h-2zM136 44.57h2v3.43h-2zM282 44.57h2v3.43h-2zM860 44.57h2v3.43h-2zM88 48h2v3.43h-2zM94 48h2v3.43h-2zM102 48h2v3.43h-2zM110 48h2v3.43h-2zM120 48h4v3.43h-4zM130 48h2v3.43h-2zM164 48h2v3.43h-2zM180 48h2v3.43h-2zM190 48h2v3.43h-2zM200 48h6v3.43h-6zM208 48h2v3.43h-2zM262 48h2v3.43h-2zM282 48h4v3.43h-4zM290 48h4v3.43h-4zM296 48h2v3.43h-2zM300 48h2v3.43h-2zM318 48h2v3.43h-2zM322 48h2v3.43h-2zM328 48h4v3.43h-4zM358 48h2v3.43h-2zM414 48h2v3.43h-2zM440 48h2v3.43h-2zM464 48h2v3.43h-2zM850 48h2v3.43h-2zM856 48h2v3.43h-2zM876 48h2v3.43h-2zM880 48h2v3.43h-2zM70 51.43h4v3.43h-4zM86 51.43h4v3.43h-4zM118 51.43h2v3.43h-2zM158 51.43h2v3.43h-2zM164 51.43h2v3.43h-2zM174 51.43h2v3.43h-2zM346 51.43h2v3.43h-2zM358 51.43h2v3.43h-2zM374 51.43h2v3.43h-2zM382 51.43h4v3.43h-4zM388 51.43h2v3.43h-2zM394 51.43h2v3.43h-2zM408 51.43h2v3.43h-2zM412 51.43h2v3.43h-2zM420 51.43h2v3.43h-2zM448 51.43h2v3.43h-2zM452 51.43h2v3.43h-2zM464 51.43h2v3.43h-2zM470 51.43h2v3.43h-2zM476 51.43h2v3.43h-2zM488 51.43h2v3.43h-2zM500 51.43h2v3.43h-2zM526 51.43h2v3.43h-2zM530 51.43h2v3.43h-2zM136 54.86h2v3.43h-2zM246 54.86h2v3.43h-2zM396 54.86h2v3.43h-2zM74 58.29h2v3.43h-2zM876 58.29h2v3.43h-2zM890 58.29h1v3.43h-1zM884 61.71h2v3.43h-2zM880 26.3h2v1.13h-2z"/><path fill="#707b90" d="M68 44.57h2v3.43h-2zM72 44.57h2v3.43h-2zM102 44.57h2v3.43h-2zM882 44.57h2v3.43h-2zM92 48h2v3.43h-2zM118 48h2v3.43h-2zM186 48h2v3.43h-2zM210 48h2v3.43h-2zM216 48h2v3.43h-2zM220 48h4v3.43h-4zM240 48h2v3.43h-2zM246 48h2v3.43h-2zM256 48h2v3.43h-2zM264 48h4v3.43h-4zM270 48h2v3.43h-2zM274 48h2v3.43h-2zM278 48h4v3.43h-4zM288 48h2v3.43h-2zM302 48h4v3.43h-4zM312 48h2v3.43h-2zM320 48h2v3.43h-2zM332 48h2v3.43h-2zM336 48h2v3.43h-2zM340 48h2v3.43h-2zM350 48h4v3.43h-4zM366 48h2v3.43h-2zM386 48h2v3.43h-2zM864 48h2v3.43h-2zM68 51.43h2v3.43h-2zM84 51.43h2v3.43h-2zM100 51.43h2v3.43h-2zM134 51.43h2v3.43h-2zM138 51.43h2v3.43h-2zM156 51.43h2v3.43h-2zM160 51.43h2v3.43h-2zM186 51.43h2v3.43h-2zM200 51.43h4v3.43h-4zM316 51.43h2v3.43h-2zM352 51.43h2v3.43h-2zM368 51.43h4v3.43h-4zM378 51.43h2v3.43h-2zM386 51.43h2v3.43h-2zM390 51.43h2v3.43h-2zM402 51.43h2v3.43h-2zM406 51.43h2v3.43h-2zM410 51.43h2v3.43h-2zM414 51.43h2v3.43h-2zM422 51.43h4v3.43h-4zM428 51.43h4v3.43h-4zM438 51.43h2v3.43h-2zM872 51.43h2v3.43h-2zM864 54.86h2v3.43h-2zM74 65.14h2v3.43h-2zM878 65.14h2v3.43h-2z"/><path fill="#676f87" d="M90 48h2v3.43h-2zM212 48h2v3.43h-2zM218 48h2v3.43h-2zM228 48h2v3.43h-2zM236 48h4v3.43h-4zM242 48h2v3.43h-2zM248 48h2v3.43h-2zM252 48h2v3.43h-2zM258 48h4v3.43h-4zM286 48h2v3.43h-2zM294 48h2v3.43h-2zM308 48h2v3.43h-2zM122 51.43h2v3.43h-2zM130 51.43h2v3.43h-2zM148 51.43h2v3.43h-2zM162 51.43h2v3.43h-2zM172 51.43h2v3.43h-2zM184 51.43h2v3.43h-2zM192 51.43h2v3.43h-2zM196 51.43h2v3.43h-2zM204 51.43h2v3.43h-2zM306 51.43h2v3.43h-2zM320 51.43h2v3.43h-2zM326 51.43h2v3.43h-2zM334 51.43h2v3.43h-2zM340 51.43h2v3.43h-2zM348 51.43h2v3.43h-2zM360 51.43h2v3.43h-2zM366 51.43h2v3.43h-2zM372 51.43h2v3.43h-2zM392 51.43h2v3.43h-2zM396 51.43h2v3.43h-2zM400 51.43h2v3.43h-2zM426 51.43h2v3.43h-2zM432 51.43h2v3.43h-2zM876 51.43h2v3.43h-2zM876 61.71h2v3.43h-2z"/><path fill="#5f657f" d="M224 48h4v3.43h-4zM232 48h4v3.43h-4zM250 48h2v3.43h-2zM254 48h2v3.43h-2zM268 48h2v3.43h-2zM276 48h2v3.43h-2zM298 48h2v3.43h-2zM324 48h2v3.43h-2zM136 51.43h2v3.43h-2zM152 51.43h2v3.43h-2zM166 51.43h6v3.43h-6zM176 51.43h2v3.43h-2zM182 51.43h2v3.43h-2zM188 51.43h4v3.43h-4zM194 51.43h2v3.43h-2zM206 51.43h4v3.43h-4zM212 51.43h4v3.43h-4zM282 51.43h2v3.43h-2zM296 51.43h2v3.43h-2zM312 51.43h2v3.43h-2zM324 51.43h2v3.43h-2zM332 51.43h2v3.43h-2zM336 51.43h2v3.43h-2zM350 51.43h2v3.43h-2zM354 51.43h4v3.43h-4zM362 51.43h2v3.43h-2zM416 51.43h2v3.43h-2zM872 65.14h2v3.43h-2z"/><path fill="#575a77" d="M230 48h2v3.43h-2zM104 51.43h2v3.43h-2zM154 51.43h2v3.43h-2zM180 51.43h2v3.43h-2zM198 51.43h2v3.43h-2zM218 51.43h2v3.43h-2zM256 51.43h2v3.43h-2zM260 51.43h2v3.43h-2zM268 51.43h4v3.43h-4zM274 51.43h2v3.43h-2zM280 51.43h2v3.43h-2zM286 51.43h2v3.43h-2zM290 51.43h4v3.43h-4zM300 51.43h2v3.43h-2zM308 51.43h4v3.43h-4zM328 51.43h2v3.43h-2zM338 51.43h2v3.43h-2zM342 51.43h4v3.43h-4zM364 51.43h2v3.43h-2z"/><path fill="#50506f" d="M882 34.29h2v3.43h-2zM136 48h2v3.43h-2zM244 48h2v3.43h-2zM178 51.43h2v3.43h-2zM210 51.43h2v3.43h-2zM216 51.43h2v3.43h-2zM222 51.43h4v3.43h-4zM230 51.43h2v3.43h-2zM238 51.43h2v3.43h-2zM252 51.43h4v3.43h-4zM258 51.43h2v3.43h-2zM272 51.43h2v3.43h-2zM276 51.43h2v3.43h-2zM284 51.43h2v3.43h-2zM294 51.43h2v3.43h-2zM302 51.43h4v3.43h-4zM314 51.43h2v3.43h-2zM318 51.43h2v3.43h-2zM322 51.43h2v3.43h-2zM330 51.43h2v3.43h-2z"/><path fill="#484864" d="M88 30.86h2v3.43h-2zM100 34.29h2v3.43h-2zM100 37.71h2v3.43h-2zM70 41.14h2v3.43h-2zM122 44.57h2v3.43h-2zM106 51.43h2v3.43h-2zM220 51.43h2v3.43h-2zM232 51.43h4v3.43h-4zM242 51.43h4v3.43h-4zM250 51.43h2v3.43h-2zM264 51.43h2v3.43h-2zM278 51.43h2v3.43h-2zM298 51.43h2v3.43h-2zM138 58.29h2v3.43h-2zM102 68.57h2v3.43h-2z"/><path fill="#404059" d="M890 27.43h1v3.43h-1zM68 34.29h2v3.43h-2zM98 34.29h2v3.43h-2zM74 41.14h2v3.43h-2zM92 41.14h2v3.43h-2zM98 41.14h2v3.43h-2zM76 44.57h2v3.43h-2zM82 44.57h4v3.43h-4zM86 48h2v3.43h-2zM74 51.43h2v3.43h-2zM132 51.43h2v3.43h-2zM144 51.43h2v3.43h-2zM228 51.43h2v3.43h-2zM236 51.43h2v3.43h-2zM246 51.43h4v3.43h-4zM262 51.43h2v3.43h-2zM266 51.43h2v3.43h-2zM288 51.43h2v3.43h-2zM80 68.57h2v3.43h-2zM882 68.57h2v3.43h-2z"/><path fill="#38384e" d="M88 24h2v3.43h-2zM88 27.43h2v3.43h-2zM66 34.29h2v3.43h-2zM72 41.14h2v3.43h-2zM94 41.14h4v3.43h-4zM66 44.57h2v3.43h-2zM74 44.57h2v3.43h-2zM96 44.57h4v3.43h-4zM226 51.43h2v3.43h-2zM240 51.43h2v3.43h-2zM102 54.86h2v3.43h-2zM90 58.29h2v3.43h-2zM82 61.71h2v3.43h-2zM102 61.71h2v3.43h-2zM102 65.14h2v3.43h-2z"/><path fill="#2f2f42" d="M86 30.86h2v3.43h-2zM68 37.71h2v3.43h-2zM72 48h2v3.43h-2zM88 54.86h2v3.43h-2zM108 58.29h2v3.43h-2zM66 68.57h2v3.43h-2z"/><path fill="#272737" d="M76 51.43h2v3.43h-2zM66 61.71h2v3.43h-2z"/><path fill="#201f2c" d="M112 44.57h2v3.43h-2zM128 51.43h2v3.43h-2zM146 51.43h2v3.43h-2zM140 58.29h2v3.43h-2z"/><path fill="#181821" d="M86 24h2v3.43h-2zM142 48h2v3.43h-2zM66 54.86h2v3.43h-2z"/><path fill="#101016" d="M74 48h2v3.43h-2zM66 51.43h2v3.43h-2zM84 54.86h2v3.43h-2zM68 58.29h2v3.43h-2zM84 65.14h2v3.43h-2zM74 68.57h2v3.43h-2zM98 68.57h4v3.43h-4z"/><path fill="#08080b" d="M76 24h4v3.43h-4zM82 34.29h2v3.43h-2zM70 37.71h4v3.43h-4zM82 37.71h2v3.43h-2zM96 48h4v3.43h-4zM68 54.86h2v3.43h-2zM76 61.71h2v3.43h-2zM66 65.14h2v3.43h-2zM76 68.57h2v3.43h-2z"/><path fill="#000000" d="M66 24h2v3.43h-2zM74 24h2v3.43h-2zM66 27.43h2v3.43h-2zM78 27.43h2v3.43h-2zM86 27.43h2v3.43h-2zM76 48h2v3.43h-2zM100 48h2v3.43h-2zM82 54.86h2v3.43h-2zM82 58.29h4v3.43h-4z"/></g><path style="stroke:#a0a0a0;stroke-width:1.11;stroke-dasharray:1.11 1.83;fill:none" d="M127.5 91.5V12.5M184.5 91.5V12.5M236.5 91.5V12.5M283.5 91.5V12.5M336.5 91.5V12.5M400.5 91.5V12.5M474.5 91.5V12.5M560.5 91.5V12.5M657.5 91.5V12.5M767.5 91.5V12.5M890.5 91.5V12.5M61.5 51.5H896.5"/><rect x="61.5" y="324.5" width="835" height="22" fill="#f7f7f7"/><path style="stroke:#a0a0a0;stroke-width:1.11;stroke-dasharray:1.11 1.83;fill:none" d="M127.5 346.5V108.5M184.5 346.5V108.5M236.5 346.5V108.5M283.5 346.5V108.5M336.5 346.5V108.5M400.5 346.5V108.5M474.5 346.5V108.5M560.5 346.5V108.5M657.5 346.5V108.5M767.5 346.5V108.5M890.5 346.5V108.5M61.5 324.5H896.5M61.5 288.5H896.5M61.5 252.5H896.5M61.5 216.5H896.5M61.5 180.5H896.5M61.5 144.5H896.5"/><g clip-path="url(#c2)"><path d="M66 396.5H69V321.44H71V396.5H74V112.1H75.5V207.5H76.6V112.1H77.8V207.5H78.6V72.5H79.6V125.24H81.6V396.5H83V295.7H85V169.7H87.4V184.1H89V216.5H91.2V230.9H94.4V130.1H96.2V72.5H100.8V320H102.8V146.3H104.5V171.5H106.2V236.3H108.4V251.6H110V318.56H111.6V311H113V164.84H115V180.5H117V72.5H121.6V157.1H124.2V260.6H125.8V171.5H127.4V229.1H128.8V217.04H131.2V189.5H133.2V266.9H135.2V179.6H136.6V196.7H137.8V179.6H139.2V205.7H139V216.5H141V160.7H143V226.4H145V211.1H147V160.7H149V212.9H151V229.1H153V223.7H155V233.42H157V220.1H159V221.9H161V167.9H163V244.4H165V205.7H167V211.1H169V200.3H171V175.1H173V171.5H175V227.3H177V144.5H179V216.5H181V194.9H183V198.5H185V193.1H187V196.7H189V229.1H191V203.9H193V212.9H195V243.5H197V209.3H199V202.1H201V196.7H203V198.5H205V216.5H207V221.9H209V229.1H211V230.9H213V223.7H215V198.5H217V193.1H219V175.1H221V160.7H223V124.7H225V137.3H227V140.9H229V137.3H231V133.7H233V157.1H235V158.9H237V151.7H239V162.5H241V160.7H243V156.2H245V173.3H247V167.9H249V171.5H251V185.9H253V180.5H255V151.7H257V155.3H259V169.7H261V178.7H263V187.7H265V185.9H267V194.9H269V193.1H271V180.5H273V182.3H275V209.3H277V205.7H279V198.5H281V200.3H283V198.5H285V194.9H287V200.3H289V207.5H291V200.3H293V203.9H295V209.3H297V211.1H299V209.3H301V219.79H303V215.68H305V210.97H307V213.96H309V189.5H311V193.1H313V225.34H315V214.47H317V218.36H319V217.6H321V224.21H323V225.88H325V249.45H327V236.34H329V230.28H331V232.41H333V230.58H335V234.45H337V244.48H339V232.16H341V234.26H343V237.15H345V245.55H347V237.69H349V230.21H351V237.75H353V234.82H355V236.66H357V248.56H359V242.7H361V246.96H363V249.39H365V246.12H367V249.6H369V252.71H371V240.21H373V242.53H375V247.12H377V248.14H379V247.53H381V263.32H383V255.98H385V247.83H387V244.54H389V259.21H391V256.14H393V246.67H395V256.68H397V253.78H399V256.77H401V254.82H403V257.16H405V254.34H407V246.49H409V258.5H411V256.05H413V256.18H415V256.87H417V257.2H419V265.11H421V255.86H423V261.83H425V264.35H427V263.05H429V263.96H431V265.63H433V262.09H435V261.65H437V262.85H439V261.87H441V262.97H443V264.71H445V264.37H447V261.21H449V267.11H451V264.92H453V260.97H455V257.24H457V264.76H459V277.33H461V264.31H463V267.16H465V269.8H467V269.92H469V268.98H471V264.55H473V268.56H475V266H477V265.92H479V259.69H481V266.82H483V259.19H485V275.84H487V276.1H489V262.36H491V264.02H493V267.57H495V272.47H497V275.85H499V276.26H501V280.16H503V267.15H505V271.18H507V274.45H509V282.45H511V274.83H513V271.7H515V282.91H517V282.51H519V278.7H521V272.5H523V280.97H525V273.91H527V273.01H529V276.7H531V282.33H533V288.09H535V280.32H537V276.63H539V278.3H541V282.89H543V288.36H545V278.33H547V290.76H549V284.36H551V277.94H553V279.99H555V282.53H557V283.63H559V282.56H561V266.9H563V291.41H565V282.31H567V286.05H569V279.55H571V275.12H573V295.61H575V279.99H577V271.4H579V282.62H581V286.88H583V277.55H585V289.4H587V283.88H589V288.92H591V297.66H593V285.33H595V280.26H597V295.69H599V291H601V295.95H603V286.84H605V288.56H607V286.98H609V286.08H611V280.84H613V286.57H615V292.45H617V285.65H619V293.54H621V290.25H623V274.2H625V288.35H627V277.7H629V292.01H631V284.9H633V297.84H635V289.72H637V292.73H639V290.91H641V294.24H643V288.12H645V289.97H647V288.12H649V291.88H651V287.44H653V284.67H655V284.77H657V282.39H659V289.86H661V291.48H663V294.88H665V279.35H667V286.48H669V289.88H671V292.49H673V298.61H675V294.94H677V292.18H679V287.39H681V285.39H683V289.08H685V292.86H687V291H689V290.74H691V291.01H693V287.66H695V290.97H697V288.82H699V290.62H701V287.57H703V294.8H705V295.07H707V299.97H709V290.27H711V297.04H713V297.87H715V293.09H717V292.29H719V292.16H721V304.21H723V296.67H725V297.03H727V290.18H729V297.47H731V288.59H733V291.52H735V289.98H737V302.59H739V283.38H741V299.88H743V293.97H745V294.3H747V294.35H749V290.08H751V294.72H753V286.53H755V302.8H757V293.51H759V296.69H761V295.12H763V293.6H765V277.7H767V298.74H769V295.36H771V288.84H773V295.64H775V300.56H777V303.6H779V294.93H781V303.8H783V293.01H785V302.26H787V295.37H789V293.15H791V299.47H793V290.79H795V298.48H797V302.81H799V299.45H801V296.66H803V295.79H805V288.9H807V302.64H809V296.78H811V293.23H813V296.6H815V292.58H817V293.17H819V293.27H821V299.73H823V294.58H825V307.98H827V297.17H829V295.43H831V293.1H833V294.36H835V303.24H837V292.52H839V296.69H841V291.49H843V293.96H845V287.27H847V293.55H849V288.83H851V288.2H853V302.18H855V293.9H857V290.3H859V286.7H861V316.4H863V290.3H865V295.7H867V286.7H869V273.02H871V309.2H873V269.06H875V297.5H877V281.66H879V306.5H881V266.18H883V288.5H885V240.26H887V334.04H889V260.96H891" style="fill:none;stroke:#878787;stroke-width:2.1;stroke-linejoin:round;stroke-linecap:square"/><path d="M76 72.5H77.6V148.1H80.4V171.5H82.6V200.3H84.6V205.7H86.6V212.9H88.6V213.62H90.1V217.16H91.6V218.06H93.1V218.3H94.6V218.58H96.1V222.44H97.6H99.1V220.54H100.6V197.42H102.1V245.57H103.6V249.62H105.1V253.67H106.6V257.18H108.1V259.75H109.6V260.42H111.1V261.1H112.6V261.32H114.1V260.87H115.6V261.95H117.1V266.12H118.6V279.2H120.1V262.66H121.6V268.39H123.1V272.65H124.6V274.8H126.1V277.68H127.6V278.16H129.1V281.51H130.6V281.48H132.6V288.25H134.6V288.36H136.6V290.8H138.6V292.07H140.6V293.4H142.6V293.9H144.6V292.21H146.6V295.77H148.6V296.8H150.6V297.57H152.6V297.63H154.6V298.65H156.6V298.47H158.6V299.84H160.6V297.39H162.6V299.7H164.6V299.22H166.6V301.76H168.6V301.26H170.6V299.94H172.6V300.37H174.6V300.39H176.6V302.89H178.6V302.13H180.6V304.83H182.6V307.55H184.6V307.49H186.6V307.92H188.6V309.41H190.6V307.54H192.6V305.58H194.6V309.89H196.6V311.45H198.6V312.15H200.6V313.34H202.6V313.65H204.6V314.11H206.6V313.7H208.6V314.85H210.6V314.02H212.6V314.31H214.6V315.08H216.6V315.13H218.6V315.42H220.6V315.64H222.6V315.89H224.6V315.05H226.6V315.8H228.6V315.62H230.6V315.94H232.6V315.88H234.6V315.61H236.6V316.06H238.6V315.72H240.6V316.36H242.6V316.04H244.6V315.17H246.6V316.12H248.6V316.55H250.6V316.66H252.6V316.53H254.6V316.63H256.6V316.39H258.6V316.56H260.6V316.73H262.6V316.88H264.6V316.75H266.6V316.62H268.6V316.46H270.6V316.58H272.6V316.55H274.6V316.42H276.6V316.68H278.6V317.22H280.6V316.93H282.6V317.26H284.6V316.9H286.6V317.52H288.6V317.22H290.6V316.6H292.6V317.34H294.6V317.64H296.6V317.08H298.6V318.04H300.6V317.81H302.6V318.18H304.6V318.33H306.6V318.22H308.6V318.5H310.6V318.09H312.6V318.64H314.6V317.96H316.6V317.5H318.6V317.33H320.6V318.56H322.6V317.15H324.6V317.97H326.6V318.05H328.6V318.37H330.6V318.14H332.6V318.39H334.6V317.35H336.6V318.17H338.6V318.43H340.6V318.1H342.6V318.26H344.6V318.27H346.6V318.31H348.6V318.5H350.6V318.81H352.6V318.45H354.6V318.71H356.6V317.96H358.6V317.94H360.6V318.64H362.6V318.91H364.6V318.49H366.6V318.63H368.6V318.39H370.6V318.16H372.6V318.52H374.6V318.71H376.6V319.11H378.6V318.78H380.6V318.73H382.6V318.72H384.6V318.8H386.6V318.96H388.6V317.87H390.6V318.81H392.6V318.59H394.6V319.07H396.6V318.81H398.6V318.59H400.6V318.6H402.6V319.23H404.6V318.96H406.6V319.04H408.6V318.63H410.6V318.85H412.6V318.42H414.6V318.26H416.6V319.11H418.6V318.98H420.6V319.11H422.6V318.94H424.6V318.68H426.6V318.4H428.6V318.8H430.6V318.53H432.6V319.56H434.6V318.87H436.6V318.85H438.6V318.22H440.6V319.09H442.6V319.68H444.6V319.36H446.6V319.15H448.6V318.99H450.6V319.35H452.6V319.12H454.6V319.16H456.6V319.16H458.6V319.13H460.6V318.98H462.6V318.52H464.6V319.2H466.6V319.4H468.6V319.28H470.6V319.4H472.6V319.08H474.6V318.64H476.6V318.72H478.6V319.38H480.6V319.09H482.6V319.2H484.6V319.71H486.6V319.11H488.6V319.43H490.6V319.31H492.6V319.64H494.6V319.55H496.6V319.53H498.6V319.56H500.6V319.65H502.6V319.37H504.6V319.13H506.6V319.23H508.6V319.54H510.6V319.35H512.6V319.29H514.6V319.82H516.6V319.04H518.6V319.49H520.6V319.65H522.6V318.62H524.6V319.58H526.6V319.39H528.6V319.5H530.6V319.04H532.6V319.38H534.6V318.98H536.6V319.16H538.6V319.45H540.6V318.78H542.6V319.59H544.6V318.97H546.6V318.82H548.6V319.71H550.6V319.93H552.6V319.35H554.6V319.24H556.6V319.34H558.6V319.86H560.6V319.47H562.6V319.22H564.6V319.45H566.6V318.47H568.6V318.73H570.6V319.67H572.6V318.6H574.6V319.6H576.6V319.34H578.6V319.34H580.6V319.08H582.6V319.4H584.6V319.29H586.6V319.33H588.6V319.18H590.6V319.18H592.6V319.31H594.6V319.08H596.6V318.92H598.6V318.76H600.6V319.46H602.6V319.46H604.6V319.47H606.6V319.45H608.6V319.26H610.6V319.07H612.6V319.44H614.6V319.14H616.6V319.36H618.6V318.55H620.6V319.17H622.6V318.31H624.6V319.48H626.6V319.44H628.6V319.15H630.6V319.4H632.6V319.21H634.6V318.87H636.6V319.37H638.6V319.39H640.6V319.12H642.6V319.23H644.6V318.98H646.6V319.18H648.6V319.42H650.6V319.69H652.6V319.03H654.6V319.3H656.6V319.08H658.6V319.58H660.6V319.29H662.6V318.99H664.6V318.81H666.6V318.79H668.6V318.73H670.6V319.07H672.6V318.8H674.6V318.95H676.6V319.1H678.6V319.15H680.6V319.23H682.6V318.74H684.6V319H686.6V319.19H688.6V319.03H690.6V318.48H692.6V319.35H694.6V318.61H696.6V318.58H698.6V319.34H700.6V318.57H702.6V319.07H704.6V318.78H706.6V318.51H708.6V317.76H710.6V318.6H712.6V318.79H714.6V318.83H716.6V318.79H718.6V318.28H720.6V318.58H722.6V318.33H724.6V319.25H726.6V318.68H728.6V318.48H730.6V318.64H732.6V317.93H734.6V318.79H736.6V318.31H738.6V318.19H740.6V318.63H742.6V318.16H744.6V318.28H746.6V317.6H748.6V317.98H750.6V318.38H752.6V317.38H754.6V318.25H756.6V318.48H758.6V318.17H760.6V318.21H762.6V317.9H764.6V318.71H766.6V318.69H768.6V318.52H770.6V318.13H772.6V318.01H774.6V318.33H776.6V318.22H778.6V318.27H780.6V318.72H782.6V318.5H784.6V318.02H786.6V318.03H788.6V317.94H790.6V317.34H792.6V318.92H794.6V317.44H796.6V318.13H798.6V318.59H800.6V317.7H802.6V318.21H804.6V317.88H806.6V317.89H808.6V317.9H810.6V317.65H812.6V318.03H814.6V317.7H816.6V317.8H818.6V318.21H820.6V318H822.6V318.04H824.6V318.08H826.6V317.91H828.6V317.25H830.6V317.65H832.6V316.88H834.6V317.11H836.6V316.94H838.6V316.92H840.6V316.2H842.6V316.26H844.6V315.55H846.6V315.12H848.6V315.05H850.6V313.73H852.6V313.77H854.6V312.51H856.6V312.83H858.6V312.04H860.6V311.2H862.6V310.58H864.6V309.77H866.6V308.88H868.6V307.8H870.6V306.72H872.6V305.42H874.6V304.07H876.6V302.36H878.6V299.66H880.6V294.86H882.6V288.14H884.6V277.52H886.6V258.98H888.6V211.1H890.5" style="fill:none;stroke:#f00;stroke-opacity:0.2;stroke-width:2.5;stroke-linejoin:round;stroke-linecap:square"/></g><rect x="81.3" y="109.7" width="80.3" height="22.3" fill="#fff" fill-opacity="0.5"/><text x="86.9" y="123.7" style="font-size:11.11px;letter-spacing:-0.12px;font-family:'DejaVu Sans',sans-serif">5105_19300</text><path d="M923.5 27H933.5V29.1H923.5zM917.4 29.1H933.5V31.9H917.4zM910.5 31.9H933.5V40.3H910.5zM933.5 43.1H946.7V46.5H933.5zM933.5 46.5H964.7V48.75H933.5zM933.5 48.75H980.4V51.5H933.5zM933.5 51.5H969.4V54.4H933.5zM933.5 54.4H943.75V57.5H933.5zM923 57.5H933.5V60.6H923zM910.5 60.6H933.5V70.4H910.5z" fill="#ff6347" fill-opacity="0.2"/><path style="stroke:#a0a0a0;stroke-width:1.11;stroke-dasharray:1.11 1.83;fill:none" d="M933.5 80V13M979.5 80V13M910.5 51.5H992.5"/><g clip-path="url(#c3)"><path d="M923.5 25.5V29.1H917.4V31.9H880V40.3H933.2V43.1H946.7V46.5H964.7V48.75H980.4V51.5H969.4V54.4H943.75V57.5H923V60.6H880V72" style="fill:none;stroke:#262626;stroke-width:3.2;stroke-linejoin:round;stroke-linecap:square"/><path d="M923.5 25.5V29.1H917.4V31.9H880V40.3H933.2V43.1H946.7V46.5H964.7V48.75H980.4V51.5H969.4V54.4H943.75V57.5H923V60.6H880V72" style="fill:none;stroke:#b05c3c;stroke-width:1.2;stroke-linejoin:round;stroke-linecap:square"/></g><path style="stroke:#000;stroke-width:1.11;fill:none" d="M910.5 12.5V91.5H926"/><path style="stroke:#000;stroke-width:1.11" d="M910.5 51.5H905.64"/><text x="934.9" y="93.7" style="font-size:9.72px;font-family:'DejaVu Sans',sans-serif">0.00 ± 0.51</text><rect x="61.5" y="12.5" width="835" height="79" style="stroke:#000;stroke-width:1.11;fill:none"/><rect x="61.5" y="108.5" width="835" height="238" style="stroke:#000;stroke-width:1.11;fill:none"/><path style="stroke:#000;stroke-width:1.11" d="M127.5 12.5v-4.86M127.5 91.5v4.86M127.5 108.5v-4.86M127.5 346.5v4.86M184.5 12.5v-4.86M184.5 91.5v4.86M184.5 108.5v-4.86M184.5 346.5v4.86M236.5 12.5v-4.86M236.5 91.5v4.86M236.5 108.5v-4.86M236.5 346.5v4.86M283.5 12.5v-4.86M283.5 91.5v4.86M283.5 108.5v-4.86M283.5 346.5v4.86M336.5 12.5v-4.86M336.5 91.5v4.86M336.5 108.5v-4.86M336.5 346.5v4.86M400.5 12.5v-4.86M400.5 91.5v4.86M400.5 108.5v-4.86M400.5 346.5v4.86M474.5 12.5v-4.86M474.5 91.5v4.86M474.5 108.5v-4.86M474.5 346.5v4.86M560.5 12.5v-4.86M560.5 91.5v4.86M560.5 108.5v-4.86M560.5 346.5v4.86M657.5 12.5v-4.86M657.5 91.5v4.86M657.5 108.5v-4.86M657.5 346.5v4.86M767.5 12.5v-4.86M767.5 91.5v4.86M767.5 108.5v-4.86M767.5 346.5v4.86M890.5 12.5v-4.86M890.5 91.5v4.86M890.5 108.5v-4.86M890.5 346.5v4.86M61.5 51.5h-4.86M61.5 324.5h-4.86M61.5 288.5h-4.86M61.5 252.5h-4.86M61.5 216.5h-4.86M61.5 180.5h-4.86M61.5 144.5h-4.86M61.5 108.5h-4.86"/><path style="stroke:#000;stroke-width:0.83" d="M92.5 12.5v-2.78M92.5 91.5v2.78M92.5 108.5v-2.78M92.5 346.5v2.78M151.5 12.5v-2.78M151.5 91.5v2.78M151.5 108.5v-2.78M151.5 346.5v2.78M170.5 12.5v-2.78M170.5 91.5v2.78M170.5 108.5v-2.78M170.5 346.5v2.78M196.5 12.5v-2.78M196.5 91.5v2.78M196.5 108.5v-2.78M196.5 346.5v2.78M207.5 12.5v-2.78M207.5 91.5v2.78M207.5 108.5v-2.78M207.5 346.5v2.78M217.5 12.5v-2.78M217.5 91.5v2.78M217.5 108.5v-2.78M217.5 346.5v2.78M227.5 12.5v-2.78M227.5 91.5v2.78M227.5 108.5v-2.78M227.5 346.5v2.78M245.5 12.5v-2.78M245.5 91.5v2.78M245.5 108.5v-2.78M245.5 346.5v2.78M254.5 12.5v-2.78M254.5 91.5v2.78M254.5 108.5v-2.78M254.5 346.5v2.78M263.5 12.5v-2.78M263.5 91.5v2.78M263.5 108.5v-2.78M263.5 346.5v2.78M273.5 12.5v-2.78M273.5 91.5v2.78M273.5 108.5v-2.78M273.5 346.5v2.78M293.5 12.5v-2.78M293.5 91.5v2.78M293.5 108.5v-2.78M293.5 346.5v2.78M303.5 12.5v-2.78M303.5 91.5v2.78M303.5 108.5v-2.78M303.5 346.5v2.78M314.5 12.5v-2.78M314.5 91.5v2.78M314.5 108.5v-2.78M314.5 346.5v2.78M325.5 12.5v-2.78M325.5 91.5v2.78M325.5 108.5v-2.78M325.5 346.5v2.78M348.5 12.5v-2.78M348.5 91.5v2.78M348.5 108.5v-2.78M348.5 346.5v2.78M360.5 12.5v-2.78M360.5 91.5v2.78M360.5 108.5v-2.78M360.5 346.5v2.78M373.5 12.5v-2.78M373.5 91.5v2.78M373.5 108.5v-2.78M373.5 346.5v2.78M386.5 12.5v-2.78M386.5 91.5v2.78M386.5 108.5v-2.78M386.5 346.5v2.78M414.5 12.5v-2.78M414.5 91.5v2.78M414.5 108.5v-2.78M414.5 346.5v2.78M428.5 12.5v-2.78M428.5 91.5v2.78M428.5 108.5v-2.78M428.5 346.5v2.78M443.5 12.5v-2.78M443.5 91.5v2.78M443.5 108.5v-2.78M443.5 346.5v2.78M458.5 12.5v-2.78M458.5 91.5v2.78M458.5 108.5v-2.78M458.5 346.5v2.78M490.5 12.5v-2.78M490.5 91.5v2.78M490.5 108.5v-2.78M490.5 346.5v2.78M507.5 12.5v-2.78M507.5 91.5v2.78M507.5 108.5v-2.78M507.5 346.5v2.78M524.5 12.5v-2.78M524.5 91.5v2.78M524.5 108.5v-2.78M524.5 346.5v2.78M541.5 12.5v-2.78M541.5 91.5v2.78M541.5 108.5v-2.78M541.5 346.5v2.78M578.5 12.5v-2.78M578.5 91.5v2.78M578.5 108.5v-2.78M578.5 346.5v2.78M597.5 12.5v-2.78M597.5 91.5v2.78M597.5 108.5v-2.78M597.5 346.5v2.78M617.5 12.5v-2.78M617.5 91.5v2.78M617.5 108.5v-2.78M617.5 346.5v2.78M637.5 12.5v-2.78M637.5 91.5v2.78M637.5 108.5v-2.78M637.5 346.5v2.78M678.5 12.5v-2.78M678.5 91.5v2.78M678.5 108.5v-2.78M678.5 346.5v2.78M700.5 12.5v-2.78M700.5 91.5v2.78M700.5 108.5v-2.78M700.5 346.5v2.78M722.5 12.5v-2.78M722.5 91.5v2.78M722.5 108.5v-2.78M722.5 346.5v2.78M744.5 12.5v-2.78M744.5 91.5v2.78M744.5 108.5v-2.78M744.5 346.5v2.78M791.5 12.5v-2.78M791.5 91.5v2.78M791.5 108.5v-2.78M791.5 346.5v2.78M815.5 12.5v-2.78M815.5 91.5v2.78M815.5 108.5v-2.78M815.5 346.5v2.78M840.5 12.5v-2.78M840.5 91.5v2.78M840.5 108.5v-2.78M840.5 346.5v2.78M865.5 12.5v-2.78M865.5 91.5v2.78M865.5 108.5v-2.78M865.5 346.5v2.78"/><text x="127.3" y="366.78" text-anchor="middle" style="font-size:13.89px;letter-spacing:-0.45px;font-family:'DejaVu Sans',sans-serif">0.7</text><text x="184.3" y="366.78" text-anchor="middle" style="font-size:13.89px;letter-spacing:-0.45px;font-family:'DejaVu Sans',sans-serif">1.0</text><text x="236.3" y="366.78" text-anchor="middle" style="font-size:13.89px;letter-spacing:-0.45px;font-family:'DejaVu Sans',sans-serif">1.5</text><text x="283.3" y="366.78" text-anchor="middle" style="font-size:13.89px;letter-spacing:-0.45px;font-family:'DejaVu Sans',sans-serif">2.0</text><text x="336.3" y="366.78" text-anchor="middle" style="font-size:13.89px;letter-spacing:-0.45px;font-family:'DejaVu Sans',sans-serif">2.5</text><text x="400.3" y="366.78" text-anchor="middle" style="font-size:13.89px;letter-spacing:-0.45px;font-family:'DejaVu Sans',sans-serif">3.0</text><text x="474.3" y="366.78" text-anchor="middle" style="font-size:13.89px;letter-spacing:-0.45px;font-family:'DejaVu Sans',sans-serif">3.5</text><text x="560.3" y="366.78" text-anchor="middle" style="font-size:13.89px;letter-spacing:-0.45px;font-family:'DejaVu Sans',sans-serif">4.0</text><text x="657.3" y="366.78" text-anchor="middle" style="font-size:13.89px;letter-spacing:-0.45px;font-family:'DejaVu Sans',sans-serif">4.5</text><text x="767.3" y="366.78" text-anchor="middle" style="font-size:13.89px;letter-spacing:-0.45px;font-family:'DejaVu Sans',sans-serif">5.0</text><text x="890.3" y="366.78" text-anchor="middle" style="font-size:13.89px;letter-spacing:-0.45px;font-family:'DejaVu Sans',sans-serif">5.5</text><text x="50.55" y="329.78" text-anchor="end" style="font-size:13.89px;letter-spacing:-0.5px;font-family:'DejaVu Sans',sans-serif">0</text><text x="50.55" y="293.78" text-anchor="end" style="font-size:13.89px;letter-spacing:-0.5px;font-family:'DejaVu Sans',sans-serif">2</text><text x="50.55" y="257.78" text-anchor="end" style="font-size:13.89px;letter-spacing:-0.5px;font-family:'DejaVu Sans',sans-serif">4</text><text x="50.55" y="221.78" text-anchor="end" style="font-size:13.89px;letter-spacing:-0.5px;font-family:'DejaVu Sans',sans-serif">6</text><text x="50.55" y="185.78" text-anchor="end" style="font-size:13.89px;letter-spacing:-0.5px;font-family:'DejaVu Sans',sans-serif">8</text><text x="50.55" y="149.78" text-anchor="end" style="font-size:13.89px;letter-spacing:-0.5px;font-family:'DejaVu Sans',sans-serif">10</text><text x="50.55" y="113.78" text-anchor="end" style="font-size:13.89px;letter-spacing:-0.5px;font-family:'DejaVu Sans',sans-serif">12</text><g transform="scale(1.388889)" style="font-family:'DejaVu Sans',sans-serif"><g transform="translate(321.7 279.92)"><text><tspan x="0" y="-0.40625" style="font-style:oblique;font-size:10px">λ</tspan><tspan x="5.917969" y="1.234375" style="font-size:7px">o</tspan><tspan x="10.200684" y="1.234375" style="font-size:7px">b</tspan><tspan x="14.644043" y="1.234375" style="font-size:7px">s</tspan><tspan x="21.743164" y="-0.40625" style="font-size:10px">[</tspan><tspan x="25.644531" y="-0.40625" style="font-style:oblique;font-size:10px">μ</tspan><tspan x="32.006836" y="-0.40625" style="font-size:10px">m</tspan><tspan x="41.748047" y="-0.40625" style="font-size:10px">]</tspan></text></g><g transform="translate(15.0 227.3) rotate(-90)"><text><tspan x="0" y="-0.71875" style="font-style:oblique;font-size:10px">f</tspan><tspan x="3.520508" y="0.921875" style="font-style:oblique;font-size:7px">λ</tspan><tspan x="11.115234" y="-0.71875" style="font-size:10px">[</tspan><tspan x="15.016602" y="-0.71875" style="font-size:10px">1</tspan><tspan x="21.378906" y="-0.71875" style="font-size:10px">0</tspan><tspan x="27.836914" y="-4.546875" style="font-size:7px">−</tspan><tspan x="33.702148" y="-4.546875" style="font-size:7px">2</tspan><tspan x="38.155762" y="-4.546875" style="font-size:7px">0</tspan><tspan x="46.061523" y="-0.71875" style="font-size:10px">e</tspan><tspan x="52.213867" y="-0.71875" style="font-size:10px">r</tspan><tspan x="56.325195" y="-0.71875" style="font-size:10px">g</tspan><tspan x="62.672852" y="-0.71875" style="font-size:10px">s</tspan><tspan x="67.978516" y="-4.546875" style="font-size:7px">−</tspan><tspan x="73.84375" y="-4.546875" style="font-size:7px">1</tspan><tspan x="78.570801" y="-0.71875" style="font-size:10px">c</tspan><tspan x="84.068848" y="-0.71875" style="font-size:10px">m</tspan><tspan x="93.905762" y="-4.546875" style="font-size:7px">−</tspan><tspan x="99.770996" y="-4.546875" style="font-size:7px">2</tspan><tspan x="104.498047" y="-0.71875" style="font-size:10px">Å</tspan><tspan x="111.43457" y="-4.546875" style="font-size:7px">−</tspan><tspan x="117.299805" y="-4.546875" style="font-size:7px">1</tspan><tspan x="122.026855" y="-0.71875" style="font-size:10px">]</tspan></text></g></g></svg></body></html>
